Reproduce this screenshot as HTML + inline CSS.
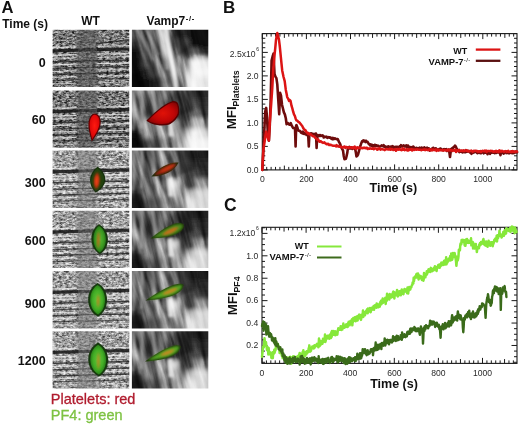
<!DOCTYPE html>
<html><head><meta charset="utf-8"><style>html,body{margin:0;padding:0;background:#fff;width:520px;height:425px;overflow:hidden;font-family:"Liberation Sans",sans-serif}</style></head>
<body><svg width="520" height="425" viewBox="0 0 520 425" style="position:absolute;left:0;top:0;filter:blur(0.35px)">
<defs><filter id="blotch0" x="-20%" y="-20%" width="140%" height="140%" color-interpolation-filters="sRGB"><feGaussianBlur in="SourceGraphic" stdDeviation="2.2" result="b"/><feTurbulence type="fractalNoise" baseFrequency="0.12 0.07" numOctaves="3" seed="41" result="t"/><feColorMatrix in="t" type="matrix" values="0 0 0 0 0  0 0 0 0 0  0 0 0 0 0  4 0 0 0 -0.55" result="m"/><feComposite in="b" in2="m" operator="in"/></filter><filter id="blotch1" x="-20%" y="-20%" width="140%" height="140%" color-interpolation-filters="sRGB"><feGaussianBlur in="SourceGraphic" stdDeviation="2.2" result="b"/><feTurbulence type="fractalNoise" baseFrequency="0.12 0.07" numOctaves="3" seed="42" result="t"/><feColorMatrix in="t" type="matrix" values="0 0 0 0 0  0 0 0 0 0  0 0 0 0 0  4 0 0 0 -0.55" result="m"/><feComposite in="b" in2="m" operator="in"/></filter><clipPath id="cpW"><rect width="76.7" height="57.3"/></clipPath><clipPath id="cpV"><rect width="76.4" height="57.3"/></clipPath><filter id="texW0" x="0" y="0" width="100%" height="100%" color-interpolation-filters="sRGB"><feTurbulence type="fractalNoise" baseFrequency="0.3 0.5" numOctaves="3" seed="11"/><feColorMatrix type="matrix" values="1 0 0 0 0  1 0 0 0 0  1 0 0 0 0  0 0 0 0 1"/><feComponentTransfer><feFuncR type="linear" slope="1.8" intercept="-0.4"/><feFuncG type="linear" slope="1.8" intercept="-0.4"/><feFuncB type="linear" slope="1.8" intercept="-0.4"/></feComponentTransfer></filter><filter id="texW1" x="0" y="0" width="100%" height="100%" color-interpolation-filters="sRGB"><feTurbulence type="fractalNoise" baseFrequency="0.3 0.5" numOctaves="3" seed="12"/><feColorMatrix type="matrix" values="1 0 0 0 0  1 0 0 0 0  1 0 0 0 0  0 0 0 0 1"/><feComponentTransfer><feFuncR type="linear" slope="1.8" intercept="-0.4"/><feFuncG type="linear" slope="1.8" intercept="-0.4"/><feFuncB type="linear" slope="1.8" intercept="-0.4"/></feComponentTransfer></filter><filter id="texW2" x="0" y="0" width="100%" height="100%" color-interpolation-filters="sRGB"><feTurbulence type="fractalNoise" baseFrequency="0.3 0.5" numOctaves="3" seed="13"/><feColorMatrix type="matrix" values="1 0 0 0 0  1 0 0 0 0  1 0 0 0 0  0 0 0 0 1"/><feComponentTransfer><feFuncR type="linear" slope="1.8" intercept="-0.4"/><feFuncG type="linear" slope="1.8" intercept="-0.4"/><feFuncB type="linear" slope="1.8" intercept="-0.4"/></feComponentTransfer></filter><filter id="texS0" x="0" y="0" width="100%" height="100%" color-interpolation-filters="sRGB"><feTurbulence type="fractalNoise" baseFrequency="0.6 0.6" numOctaves="3" seed="21"/><feColorMatrix type="matrix" values="1 0 0 0 0  1 0 0 0 0  1 0 0 0 0  0 0 0 0 1"/><feComponentTransfer><feFuncR type="linear" slope="2.4" intercept="-0.6"/><feFuncG type="linear" slope="2.4" intercept="-0.6"/><feFuncB type="linear" slope="2.4" intercept="-0.6"/></feComponentTransfer></filter><filter id="texS1" x="0" y="0" width="100%" height="100%" color-interpolation-filters="sRGB"><feTurbulence type="fractalNoise" baseFrequency="0.6 0.6" numOctaves="3" seed="22"/><feColorMatrix type="matrix" values="1 0 0 0 0  1 0 0 0 0  1 0 0 0 0  0 0 0 0 1"/><feComponentTransfer><feFuncR type="linear" slope="2.4" intercept="-0.6"/><feFuncG type="linear" slope="2.4" intercept="-0.6"/><feFuncB type="linear" slope="2.4" intercept="-0.6"/></feComponentTransfer></filter><filter id="texV0" x="0" y="0" width="100%" height="100%" color-interpolation-filters="sRGB"><feTurbulence type="fractalNoise" baseFrequency="0.13 0.02" numOctaves="3" seed="31"/><feColorMatrix type="matrix" values="1 0 0 0 0  1 0 0 0 0  1 0 0 0 0  0 0 0 0 1"/><feComponentTransfer><feFuncR type="linear" slope="2.2" intercept="-0.6"/><feFuncG type="linear" slope="2.2" intercept="-0.6"/><feFuncB type="linear" slope="2.2" intercept="-0.6"/></feComponentTransfer></filter><filter id="texV1" x="0" y="0" width="100%" height="100%" color-interpolation-filters="sRGB"><feTurbulence type="fractalNoise" baseFrequency="0.13 0.02" numOctaves="3" seed="32"/><feColorMatrix type="matrix" values="1 0 0 0 0  1 0 0 0 0  1 0 0 0 0  0 0 0 0 1"/><feComponentTransfer><feFuncR type="linear" slope="2.2" intercept="-0.6"/><feFuncG type="linear" slope="2.2" intercept="-0.6"/><feFuncB type="linear" slope="2.2" intercept="-0.6"/></feComponentTransfer></filter><filter id="hiW0" x="0" y="0" width="100%" height="100%" color-interpolation-filters="sRGB"><feTurbulence type="fractalNoise" baseFrequency="0.35 0.75" numOctaves="3" seed="51"/><feColorMatrix type="matrix" values="0 0 0 0 1  0 0 0 0 1  0 0 0 0 1  3.2 0 0 0 -1.62"/></filter><filter id="hiW1" x="0" y="0" width="100%" height="100%" color-interpolation-filters="sRGB"><feTurbulence type="fractalNoise" baseFrequency="0.35 0.75" numOctaves="3" seed="52"/><feColorMatrix type="matrix" values="0 0 0 0 1  0 0 0 0 1  0 0 0 0 1  3.2 0 0 0 -1.62"/></filter><filter id="hiW2" x="0" y="0" width="100%" height="100%" color-interpolation-filters="sRGB"><feTurbulence type="fractalNoise" baseFrequency="0.35 0.75" numOctaves="3" seed="53"/><feColorMatrix type="matrix" values="0 0 0 0 1  0 0 0 0 1  0 0 0 0 1  3.2 0 0 0 -1.62"/></filter><filter id="dkW0" x="0" y="0" width="100%" height="100%" color-interpolation-filters="sRGB"><feTurbulence type="fractalNoise" baseFrequency="0.35 0.75" numOctaves="3" seed="61"/><feColorMatrix type="matrix" values="0 0 0 0 0.12  0 0 0 0 0.12  0 0 0 0 0.12  -4 0 0 0 1.9"/></filter><filter id="dkW1" x="0" y="0" width="100%" height="100%" color-interpolation-filters="sRGB"><feTurbulence type="fractalNoise" baseFrequency="0.35 0.75" numOctaves="3" seed="62"/><feColorMatrix type="matrix" values="0 0 0 0 0.12  0 0 0 0 0.12  0 0 0 0 0.12  -4 0 0 0 1.9"/></filter><filter id="dkW2" x="0" y="0" width="100%" height="100%" color-interpolation-filters="sRGB"><feTurbulence type="fractalNoise" baseFrequency="0.35 0.75" numOctaves="3" seed="63"/><feColorMatrix type="matrix" values="0 0 0 0 0.12  0 0 0 0 0.12  0 0 0 0 0.12  -4 0 0 0 1.9"/></filter><radialGradient id="gRed" cx="50%" cy="45%" r="60%"><stop offset="0" stop-color="#ff1a10"/><stop offset="0.7" stop-color="#e00808"/><stop offset="1" stop-color="#b00404"/></radialGradient>
<radialGradient id="gRed2" cx="50%" cy="50%" r="60%"><stop offset="0" stop-color="#e01208"/><stop offset="0.6" stop-color="#c00606"/><stop offset="1" stop-color="#8a0404"/></radialGradient>
<radialGradient id="gW300" cx="50%" cy="50%" r="55%"><stop offset="0" stop-color="#f03a10"/><stop offset="0.45" stop-color="#c03a10"/><stop offset="0.8" stop-color="#3a5010"/><stop offset="1" stop-color="#1c3a0c"/></radialGradient>
<radialGradient id="gLeaf" cx="50%" cy="50%" r="55%"><stop offset="0" stop-color="#5ab832"/><stop offset="0.6" stop-color="#3c9a22"/><stop offset="1" stop-color="#1e6a12"/></radialGradient>
<radialGradient id="gLeafB" cx="50%" cy="50%" r="55%"><stop offset="0" stop-color="#66c83a"/><stop offset="0.6" stop-color="#42ac26"/><stop offset="1" stop-color="#207214"/></radialGradient>
<filter id="bb" x="-30%" y="-30%" width="160%" height="160%"><feGaussianBlur stdDeviation="0.55"/></filter>
<filter id="bb1" x="-30%" y="-30%" width="160%" height="160%"><feGaussianBlur stdDeviation="0.9"/></filter>
<filter id="texW0" x="0" y="0" width="100%" height="100%" color-interpolation-filters="sRGB"><feTurbulence type="fractalNoise" baseFrequency="0.3 0.8" numOctaves="3" seed="11"/><feColorMatrix type="matrix" values="1 0 0 0 0  1 0 0 0 0  1 0 0 0 0  0 0 0 0 1"/><feComponentTransfer><feFuncR type="linear" slope="2.6" intercept="-0.8"/><feFuncG type="linear" slope="2.6" intercept="-0.8"/><feFuncB type="linear" slope="2.6" intercept="-0.8"/></feComponentTransfer></filter><filter id="texW1" x="0" y="0" width="100%" height="100%" color-interpolation-filters="sRGB"><feTurbulence type="fractalNoise" baseFrequency="0.3 0.8" numOctaves="3" seed="12"/><feColorMatrix type="matrix" values="1 0 0 0 0  1 0 0 0 0  1 0 0 0 0  0 0 0 0 1"/><feComponentTransfer><feFuncR type="linear" slope="2.6" intercept="-0.8"/><feFuncG type="linear" slope="2.6" intercept="-0.8"/><feFuncB type="linear" slope="2.6" intercept="-0.8"/></feComponentTransfer></filter><filter id="texW2" x="0" y="0" width="100%" height="100%" color-interpolation-filters="sRGB"><feTurbulence type="fractalNoise" baseFrequency="0.3 0.8" numOctaves="3" seed="13"/><feColorMatrix type="matrix" values="1 0 0 0 0  1 0 0 0 0  1 0 0 0 0  0 0 0 0 1"/><feComponentTransfer><feFuncR type="linear" slope="2.6" intercept="-0.8"/><feFuncG type="linear" slope="2.6" intercept="-0.8"/><feFuncB type="linear" slope="2.6" intercept="-0.8"/></feComponentTransfer></filter>
<filter id="nzH" x="0" y="0" width="100%" height="100%"><feTurbulence type="fractalNoise" baseFrequency="0.12 0.55" numOctaves="2" seed="3"/><feColorMatrix type="matrix" values="0 0 0 0 0  0 0 0 0 0  0 0 0 0 0  0 0 0 -2.2 1.35"/></filter>
<filter id="nzV" x="0" y="0" width="100%" height="100%"><feTurbulence type="fractalNoise" baseFrequency="0.3 0.1" numOctaves="2" seed="5"/><feColorMatrix type="matrix" values="0 0 0 0 1  0 0 0 0 1  0 0 0 0 1  0 0 0 -2 1.2"/></filter>
<filter id="bl3"><feGaussianBlur stdDeviation="3"/></filter>
<filter id="bl2"><feGaussianBlur stdDeviation="2"/></filter>
<filter id="bl1"><feGaussianBlur stdDeviation="1"/></filter>
<filter id="bl07"><feGaussianBlur stdDeviation="0.7"/></filter>
<filter id="bl04"><feGaussianBlur stdDeviation="0.4"/></filter><filter id="bl15" x="-50%" y="-10%" width="200%" height="120%"><feGaussianBlur stdDeviation="1.5"/></filter><filter id="bl25" x="-20%" y="-20%" width="140%" height="140%"><feGaussianBlur stdDeviation="2.5"/></filter>
<filter id="bl15v" x="-20%" y="-20%" width="140%" height="140%"><feGaussianBlur stdDeviation="1.6"/></filter>
<filter id="bl4v" x="-30%" y="-30%" width="160%" height="160%"><feGaussianBlur stdDeviation="4"/></filter>
<filter id="blg" x="-30%" y="-30%" width="160%" height="160%"><feGaussianBlur stdDeviation="2.6"/></filter>
<filter id="bl1v" x="-30%" y="-30%" width="160%" height="160%"><feGaussianBlur stdDeviation="1.2"/></filter>
<filter id="bl07w" x="-10%" y="-200%" width="120%" height="500%"><feGaussianBlur stdDeviation="0.7"/></filter>
<filter id="bl05"><feGaussianBlur stdDeviation="0.5"/></filter>
</defs>
<rect width="520" height="425" fill="#fff"/>
<g transform="translate(52.6,29.7)" clip-path="url(#cpW)"><rect width="76.7" height="57.3" fill="#6c6c6c"/><rect width="76.7" height="57.3" filter="url(#texW0)" opacity="0.8" style="mix-blend-mode:overlay"/><rect width="76.7" height="57.3" filter="url(#hiW0)" opacity="0.5"/><rect x="24" y="-5" width="21" height="67.3" fill="#585858" opacity="0.55" filter="url(#bl15)"/><path d="M-2 21.3L26 20.5" stroke="#141414" stroke-width="3.2" opacity="0.85" filter="url(#bl07w)"/><path d="M26 20.5L44 20.0" stroke="#141414" stroke-width="3.2" opacity="0.51" filter="url(#bl07w)"/><path d="M44 20.0L78.7 19.3" stroke="#141414" stroke-width="3.2" opacity="0.85" filter="url(#bl07w)"/><path d="M-2 32.3L26 31.5" stroke="#141414" stroke-width="1.5" opacity="0.7" filter="url(#bl07w)"/><path d="M26 31.5L44 31.0" stroke="#141414" stroke-width="1.5" opacity="0.42" filter="url(#bl07w)"/><path d="M44 31.0L78.7 30.3" stroke="#141414" stroke-width="1.5" opacity="0.7" filter="url(#bl07w)"/><path d="M-2 38.8L26 38" stroke="#141414" stroke-width="1.3" opacity="0.65" filter="url(#bl07w)"/><path d="M26 38L44 37.5" stroke="#141414" stroke-width="1.3" opacity="0.39" filter="url(#bl07w)"/><path d="M44 37.5L78.7 36.8" stroke="#141414" stroke-width="1.3" opacity="0.65" filter="url(#bl07w)"/><path d="M-2 44.8L26 44" stroke="#141414" stroke-width="1.5" opacity="0.7" filter="url(#bl07w)"/><path d="M26 44L44 43.5" stroke="#141414" stroke-width="1.5" opacity="0.42" filter="url(#bl07w)"/><path d="M44 43.5L78.7 42.8" stroke="#141414" stroke-width="1.5" opacity="0.7" filter="url(#bl07w)"/><path d="M-2 50.8L26 50" stroke="#141414" stroke-width="1.2" opacity="0.55" filter="url(#bl07w)"/><path d="M26 50L44 49.5" stroke="#141414" stroke-width="1.2" opacity="0.33" filter="url(#bl07w)"/><path d="M44 49.5L78.7 48.8" stroke="#141414" stroke-width="1.2" opacity="0.55" filter="url(#bl07w)"/><path d="M-2 18.0L24 17.2M45 16.7L78.7 16.0" stroke="#f4f4f4" stroke-width="1.2" opacity="0.7" filter="url(#bl04)"/><path d="M-2 25.8L24 25M45 24.5L78.7 23.8" stroke="#f4f4f4" stroke-width="1.3" opacity="0.7" filter="url(#bl04)"/><path d="M-2 28.8L24 28M45 27.5L78.7 26.8" stroke="#f4f4f4" stroke-width="1.1" opacity="0.6" filter="url(#bl04)"/><path d="M-2 35.3L24 34.5M45 34.0L78.7 33.3" stroke="#f4f4f4" stroke-width="1.3" opacity="0.7" filter="url(#bl04)"/><path d="M-2 41.8L24 41M45 40.5L78.7 39.8" stroke="#f4f4f4" stroke-width="1.2" opacity="0.65" filter="url(#bl04)"/><path d="M-2 47.8L24 47M45 46.5L78.7 45.8" stroke="#f4f4f4" stroke-width="1.2" opacity="0.65" filter="url(#bl04)"/><path d="M-2 54.3L24 53.5M45 53.0L78.7 52.3" stroke="#f4f4f4" stroke-width="1.0" opacity="0.5" filter="url(#bl04)"/><path d="M44 14L78.7 10" stroke="#141414" stroke-width="1.6" opacity="0.6"/></g><g transform="translate(131.9,29.7)" clip-path="url(#cpV)"><g filter="url(#blg)"><rect x="-9.85" y="-9.85" width="10.15" height="10.15" fill="#595959"/><rect x="-0.30" y="-9.85" width="10.15" height="10.15" fill="#595959"/><rect x="9.25" y="-9.85" width="10.15" height="10.15" fill="#747474"/><rect x="18.80" y="-9.85" width="10.15" height="10.15" fill="#606060"/><rect x="28.35" y="-9.85" width="10.15" height="10.15" fill="#b8b8b8"/><rect x="37.90" y="-9.85" width="10.15" height="10.15" fill="#2a2a2a"/><rect x="47.45" y="-9.85" width="10.15" height="10.15" fill="#1d1d1d"/><rect x="57.00" y="-9.85" width="10.15" height="10.15" fill="#0f0f0f"/><rect x="66.55" y="-9.85" width="10.15" height="10.15" fill="#080808"/><rect x="76.10" y="-9.85" width="10.15" height="10.15" fill="#080808"/><rect x="-9.85" y="-0.30" width="10.15" height="10.15" fill="#595959"/><rect x="-0.30" y="-0.30" width="10.15" height="10.15" fill="#595959"/><rect x="9.25" y="-0.30" width="10.15" height="10.15" fill="#747474"/><rect x="18.80" y="-0.30" width="10.15" height="10.15" fill="#606060"/><rect x="28.35" y="-0.30" width="10.15" height="10.15" fill="#b8b8b8"/><rect x="37.90" y="-0.30" width="10.15" height="10.15" fill="#2a2a2a"/><rect x="47.45" y="-0.30" width="10.15" height="10.15" fill="#1d1d1d"/><rect x="57.00" y="-0.30" width="10.15" height="10.15" fill="#0f0f0f"/><rect x="66.55" y="-0.30" width="10.15" height="10.15" fill="#080808"/><rect x="76.10" y="-0.30" width="10.15" height="10.15" fill="#080808"/><rect x="-9.85" y="9.25" width="10.15" height="10.15" fill="#313131"/><rect x="-0.30" y="9.25" width="10.15" height="10.15" fill="#313131"/><rect x="9.25" y="9.25" width="10.15" height="10.15" fill="#676767"/><rect x="18.80" y="9.25" width="10.15" height="10.15" fill="#595959"/><rect x="28.35" y="9.25" width="10.15" height="10.15" fill="#b1b1b1"/><rect x="37.90" y="9.25" width="10.15" height="10.15" fill="#535353"/><rect x="47.45" y="9.25" width="10.15" height="10.15" fill="#3e3e3e"/><rect x="57.00" y="9.25" width="10.15" height="10.15" fill="#0f0f0f"/><rect x="66.55" y="9.25" width="10.15" height="10.15" fill="#080808"/><rect x="76.10" y="9.25" width="10.15" height="10.15" fill="#080808"/><rect x="-9.85" y="18.80" width="10.15" height="10.15" fill="#0f0f0f"/><rect x="-0.30" y="18.80" width="10.15" height="10.15" fill="#0f0f0f"/><rect x="9.25" y="18.80" width="10.15" height="10.15" fill="#595959"/><rect x="18.80" y="18.80" width="10.15" height="10.15" fill="#535353"/><rect x="28.35" y="18.80" width="10.15" height="10.15" fill="#b1b1b1"/><rect x="37.90" y="18.80" width="10.15" height="10.15" fill="#898989"/><rect x="47.45" y="18.80" width="10.15" height="10.15" fill="#2a2a2a"/><rect x="57.00" y="18.80" width="10.15" height="10.15" fill="#535353"/><rect x="66.55" y="18.80" width="10.15" height="10.15" fill="#2a2a2a"/><rect x="76.10" y="18.80" width="10.15" height="10.15" fill="#2a2a2a"/><rect x="-9.85" y="28.35" width="10.15" height="10.15" fill="#080808"/><rect x="-0.30" y="28.35" width="10.15" height="10.15" fill="#080808"/><rect x="9.25" y="28.35" width="10.15" height="10.15" fill="#454545"/><rect x="18.80" y="28.35" width="10.15" height="10.15" fill="#606060"/><rect x="28.35" y="28.35" width="10.15" height="10.15" fill="#898989"/><rect x="37.90" y="28.35" width="10.15" height="10.15" fill="#a4a4a4"/><rect x="47.45" y="28.35" width="10.15" height="10.15" fill="#7b7b7b"/><rect x="57.00" y="28.35" width="10.15" height="10.15" fill="#fafafa"/><rect x="66.55" y="28.35" width="10.15" height="10.15" fill="#e7e7e7"/><rect x="76.10" y="28.35" width="10.15" height="10.15" fill="#e7e7e7"/><rect x="-9.85" y="37.90" width="10.15" height="10.15" fill="#080808"/><rect x="-0.30" y="37.90" width="10.15" height="10.15" fill="#080808"/><rect x="9.25" y="37.90" width="10.15" height="10.15" fill="#1d1d1d"/><rect x="18.80" y="37.90" width="10.15" height="10.15" fill="#535353"/><rect x="28.35" y="37.90" width="10.15" height="10.15" fill="#6e6e6e"/><rect x="37.90" y="37.90" width="10.15" height="10.15" fill="#a4a4a4"/><rect x="47.45" y="37.90" width="10.15" height="10.15" fill="#898989"/><rect x="57.00" y="37.90" width="10.15" height="10.15" fill="#fafafa"/><rect x="66.55" y="37.90" width="10.15" height="10.15" fill="#f5f5f5"/><rect x="76.10" y="37.90" width="10.15" height="10.15" fill="#f5f5f5"/><rect x="-9.85" y="47.45" width="10.15" height="10.15" fill="#080808"/><rect x="-0.30" y="47.45" width="10.15" height="10.15" fill="#080808"/><rect x="9.25" y="47.45" width="10.15" height="10.15" fill="#080808"/><rect x="18.80" y="47.45" width="10.15" height="10.15" fill="#1d1d1d"/><rect x="28.35" y="47.45" width="10.15" height="10.15" fill="#535353"/><rect x="37.90" y="47.45" width="10.15" height="10.15" fill="#7b7b7b"/><rect x="47.45" y="47.45" width="10.15" height="10.15" fill="#898989"/><rect x="57.00" y="47.45" width="10.15" height="10.15" fill="#fafafa"/><rect x="66.55" y="47.45" width="10.15" height="10.15" fill="#e7e7e7"/><rect x="76.10" y="47.45" width="10.15" height="10.15" fill="#e7e7e7"/><rect x="-9.85" y="57.00" width="10.15" height="10.15" fill="#080808"/><rect x="-0.30" y="57.00" width="10.15" height="10.15" fill="#080808"/><rect x="9.25" y="57.00" width="10.15" height="10.15" fill="#080808"/><rect x="18.80" y="57.00" width="10.15" height="10.15" fill="#1d1d1d"/><rect x="28.35" y="57.00" width="10.15" height="10.15" fill="#535353"/><rect x="37.90" y="57.00" width="10.15" height="10.15" fill="#7b7b7b"/><rect x="47.45" y="57.00" width="10.15" height="10.15" fill="#898989"/><rect x="57.00" y="57.00" width="10.15" height="10.15" fill="#fafafa"/><rect x="66.55" y="57.00" width="10.15" height="10.15" fill="#e7e7e7"/><rect x="76.10" y="57.00" width="10.15" height="10.15" fill="#e7e7e7"/></g><rect x="-20" y="-20" width="116.4" height="97.3" transform="rotate(-14 38 28)" filter="url(#texV0)" opacity="0.6" style="mix-blend-mode:overlay"/><g filter="url(#bl1v)"><path d="M31 -3L36 -3L47 60L42 60Z" fill="#ffffff" opacity="0.75"/><path d="M27 -3L30 -3L37 40L34 40Z" fill="#e0e0e0" opacity="0.45"/><path d="M3 -3L6 -3L22 30L20 31Z" fill="#d8d8d8" opacity="0.35"/><path d="M11 -3L14 -3L28 25L26 26Z" fill="#d8d8d8" opacity="0.35"/><path d="M38 -3L48 -3L56 20L46 26Z" fill="#000000" opacity="0.35"/><path d="M-3 44L10 43L12 60L-3 60Z" fill="#000000" opacity="0.4"/></g></g><g transform="translate(52.6,90.4)" clip-path="url(#cpW)"><rect width="76.7" height="57.3" fill="#6c6c6c"/><rect width="76.7" height="57.3" filter="url(#texW1)" opacity="0.8" style="mix-blend-mode:overlay"/><rect width="76.7" height="57.3" filter="url(#hiW1)" opacity="0.5"/><rect x="24" y="-5" width="21" height="67.3" fill="#585858" opacity="0.55" filter="url(#bl15)"/><path d="M-2 21.3L26 20.5" stroke="#141414" stroke-width="3.2" opacity="0.85" filter="url(#bl07w)"/><path d="M26 20.5L44 20.0" stroke="#141414" stroke-width="3.2" opacity="0.51" filter="url(#bl07w)"/><path d="M44 20.0L78.7 19.3" stroke="#141414" stroke-width="3.2" opacity="0.85" filter="url(#bl07w)"/><path d="M-2 32.3L26 31.5" stroke="#141414" stroke-width="1.5" opacity="0.7" filter="url(#bl07w)"/><path d="M26 31.5L44 31.0" stroke="#141414" stroke-width="1.5" opacity="0.42" filter="url(#bl07w)"/><path d="M44 31.0L78.7 30.3" stroke="#141414" stroke-width="1.5" opacity="0.7" filter="url(#bl07w)"/><path d="M-2 38.8L26 38" stroke="#141414" stroke-width="1.3" opacity="0.65" filter="url(#bl07w)"/><path d="M26 38L44 37.5" stroke="#141414" stroke-width="1.3" opacity="0.39" filter="url(#bl07w)"/><path d="M44 37.5L78.7 36.8" stroke="#141414" stroke-width="1.3" opacity="0.65" filter="url(#bl07w)"/><path d="M-2 44.8L26 44" stroke="#141414" stroke-width="1.5" opacity="0.7" filter="url(#bl07w)"/><path d="M26 44L44 43.5" stroke="#141414" stroke-width="1.5" opacity="0.42" filter="url(#bl07w)"/><path d="M44 43.5L78.7 42.8" stroke="#141414" stroke-width="1.5" opacity="0.7" filter="url(#bl07w)"/><path d="M-2 50.8L26 50" stroke="#141414" stroke-width="1.2" opacity="0.55" filter="url(#bl07w)"/><path d="M26 50L44 49.5" stroke="#141414" stroke-width="1.2" opacity="0.33" filter="url(#bl07w)"/><path d="M44 49.5L78.7 48.8" stroke="#141414" stroke-width="1.2" opacity="0.55" filter="url(#bl07w)"/><path d="M-2 18.0L24 17.2M45 16.7L78.7 16.0" stroke="#f4f4f4" stroke-width="1.2" opacity="0.7" filter="url(#bl04)"/><path d="M-2 25.8L24 25M45 24.5L78.7 23.8" stroke="#f4f4f4" stroke-width="1.3" opacity="0.7" filter="url(#bl04)"/><path d="M-2 28.8L24 28M45 27.5L78.7 26.8" stroke="#f4f4f4" stroke-width="1.1" opacity="0.6" filter="url(#bl04)"/><path d="M-2 35.3L24 34.5M45 34.0L78.7 33.3" stroke="#f4f4f4" stroke-width="1.3" opacity="0.7" filter="url(#bl04)"/><path d="M-2 41.8L24 41M45 40.5L78.7 39.8" stroke="#f4f4f4" stroke-width="1.2" opacity="0.65" filter="url(#bl04)"/><path d="M-2 47.8L24 47M45 46.5L78.7 45.8" stroke="#f4f4f4" stroke-width="1.2" opacity="0.65" filter="url(#bl04)"/><path d="M-2 54.3L24 53.5M45 53.0L78.7 52.3" stroke="#f4f4f4" stroke-width="1.0" opacity="0.5" filter="url(#bl04)"/></g><g transform="translate(131.9,90.4)" clip-path="url(#cpV)"><g filter="url(#blg)"><rect x="-9.85" y="-9.85" width="10.15" height="10.15" fill="#828282"/><rect x="-0.30" y="-9.85" width="10.15" height="10.15" fill="#828282"/><rect x="9.25" y="-9.85" width="10.15" height="10.15" fill="#676767"/><rect x="18.80" y="-9.85" width="10.15" height="10.15" fill="#595959"/><rect x="28.35" y="-9.85" width="10.15" height="10.15" fill="#969696"/><rect x="37.90" y="-9.85" width="10.15" height="10.15" fill="#535353"/><rect x="47.45" y="-9.85" width="10.15" height="10.15" fill="#606060"/><rect x="57.00" y="-9.85" width="10.15" height="10.15" fill="#2a2a2a"/><rect x="66.55" y="-9.85" width="10.15" height="10.15" fill="#1d1d1d"/><rect x="76.10" y="-9.85" width="10.15" height="10.15" fill="#1d1d1d"/><rect x="-9.85" y="-0.30" width="10.15" height="10.15" fill="#828282"/><rect x="-0.30" y="-0.30" width="10.15" height="10.15" fill="#828282"/><rect x="9.25" y="-0.30" width="10.15" height="10.15" fill="#676767"/><rect x="18.80" y="-0.30" width="10.15" height="10.15" fill="#595959"/><rect x="28.35" y="-0.30" width="10.15" height="10.15" fill="#969696"/><rect x="37.90" y="-0.30" width="10.15" height="10.15" fill="#535353"/><rect x="47.45" y="-0.30" width="10.15" height="10.15" fill="#606060"/><rect x="57.00" y="-0.30" width="10.15" height="10.15" fill="#2a2a2a"/><rect x="66.55" y="-0.30" width="10.15" height="10.15" fill="#1d1d1d"/><rect x="76.10" y="-0.30" width="10.15" height="10.15" fill="#1d1d1d"/><rect x="-9.85" y="9.25" width="10.15" height="10.15" fill="#8f8f8f"/><rect x="-0.30" y="9.25" width="10.15" height="10.15" fill="#8f8f8f"/><rect x="9.25" y="9.25" width="10.15" height="10.15" fill="#747474"/><rect x="18.80" y="9.25" width="10.15" height="10.15" fill="#676767"/><rect x="28.35" y="9.25" width="10.15" height="10.15" fill="#7b7b7b"/><rect x="37.90" y="9.25" width="10.15" height="10.15" fill="#6e6e6e"/><rect x="47.45" y="9.25" width="10.15" height="10.15" fill="#6e6e6e"/><rect x="57.00" y="9.25" width="10.15" height="10.15" fill="#383838"/><rect x="66.55" y="9.25" width="10.15" height="10.15" fill="#2a2a2a"/><rect x="76.10" y="9.25" width="10.15" height="10.15" fill="#2a2a2a"/><rect x="-9.85" y="18.80" width="10.15" height="10.15" fill="#747474"/><rect x="-0.30" y="18.80" width="10.15" height="10.15" fill="#747474"/><rect x="9.25" y="18.80" width="10.15" height="10.15" fill="#595959"/><rect x="18.80" y="18.80" width="10.15" height="10.15" fill="#595959"/><rect x="28.35" y="18.80" width="10.15" height="10.15" fill="#6e6e6e"/><rect x="37.90" y="18.80" width="10.15" height="10.15" fill="#6e6e6e"/><rect x="47.45" y="18.80" width="10.15" height="10.15" fill="#606060"/><rect x="57.00" y="18.80" width="10.15" height="10.15" fill="#535353"/><rect x="66.55" y="18.80" width="10.15" height="10.15" fill="#383838"/><rect x="76.10" y="18.80" width="10.15" height="10.15" fill="#383838"/><rect x="-9.85" y="28.35" width="10.15" height="10.15" fill="#4c4c4c"/><rect x="-0.30" y="28.35" width="10.15" height="10.15" fill="#4c4c4c"/><rect x="9.25" y="28.35" width="10.15" height="10.15" fill="#8f8f8f"/><rect x="18.80" y="28.35" width="10.15" height="10.15" fill="#8f8f8f"/><rect x="28.35" y="28.35" width="10.15" height="10.15" fill="#6e6e6e"/><rect x="37.90" y="28.35" width="10.15" height="10.15" fill="#bfbfbf"/><rect x="47.45" y="28.35" width="10.15" height="10.15" fill="#6e6e6e"/><rect x="57.00" y="28.35" width="10.15" height="10.15" fill="#b1b1b1"/><rect x="66.55" y="28.35" width="10.15" height="10.15" fill="#898989"/><rect x="76.10" y="28.35" width="10.15" height="10.15" fill="#898989"/><rect x="-9.85" y="37.90" width="10.15" height="10.15" fill="#161616"/><rect x="-0.30" y="37.90" width="10.15" height="10.15" fill="#161616"/><rect x="9.25" y="37.90" width="10.15" height="10.15" fill="#828282"/><rect x="18.80" y="37.90" width="10.15" height="10.15" fill="#8f8f8f"/><rect x="28.35" y="37.90" width="10.15" height="10.15" fill="#7b7b7b"/><rect x="37.90" y="37.90" width="10.15" height="10.15" fill="#b1b1b1"/><rect x="47.45" y="37.90" width="10.15" height="10.15" fill="#969696"/><rect x="57.00" y="37.90" width="10.15" height="10.15" fill="#fafafa"/><rect x="66.55" y="37.90" width="10.15" height="10.15" fill="#dadada"/><rect x="76.10" y="37.90" width="10.15" height="10.15" fill="#dadada"/><rect x="-9.85" y="47.45" width="10.15" height="10.15" fill="#080808"/><rect x="-0.30" y="47.45" width="10.15" height="10.15" fill="#080808"/><rect x="9.25" y="47.45" width="10.15" height="10.15" fill="#313131"/><rect x="18.80" y="47.45" width="10.15" height="10.15" fill="#595959"/><rect x="28.35" y="47.45" width="10.15" height="10.15" fill="#606060"/><rect x="37.90" y="47.45" width="10.15" height="10.15" fill="#898989"/><rect x="47.45" y="47.45" width="10.15" height="10.15" fill="#b1b1b1"/><rect x="57.00" y="47.45" width="10.15" height="10.15" fill="#fafafa"/><rect x="66.55" y="47.45" width="10.15" height="10.15" fill="#f5f5f5"/><rect x="76.10" y="47.45" width="10.15" height="10.15" fill="#f5f5f5"/><rect x="-9.85" y="57.00" width="10.15" height="10.15" fill="#080808"/><rect x="-0.30" y="57.00" width="10.15" height="10.15" fill="#080808"/><rect x="9.25" y="57.00" width="10.15" height="10.15" fill="#313131"/><rect x="18.80" y="57.00" width="10.15" height="10.15" fill="#595959"/><rect x="28.35" y="57.00" width="10.15" height="10.15" fill="#606060"/><rect x="37.90" y="57.00" width="10.15" height="10.15" fill="#898989"/><rect x="47.45" y="57.00" width="10.15" height="10.15" fill="#b1b1b1"/><rect x="57.00" y="57.00" width="10.15" height="10.15" fill="#fafafa"/><rect x="66.55" y="57.00" width="10.15" height="10.15" fill="#f5f5f5"/><rect x="76.10" y="57.00" width="10.15" height="10.15" fill="#f5f5f5"/></g><rect x="-20" y="-20" width="116.4" height="97.3" transform="rotate(-14 38 28)" filter="url(#texV1)" opacity="0.6" style="mix-blend-mode:overlay"/><g filter="url(#bl1v)"><path d="M35.5 28L40.5 27L41.5 46L36.5 46Z" fill="#ffffff" opacity="0.7"/><path d="M1 -3L4 -3L3 40L0 40Z" fill="#d0d0d0" opacity="0.4"/><path d="M9 -3L12 -3L11 38L8 38Z" fill="#d0d0d0" opacity="0.4"/><path d="M19 -3L22 -3L25 26L22 26Z" fill="#d8d8d8" opacity="0.4"/><path d="M-3 44L10 43L12 60L-3 60Z" fill="#000000" opacity="0.4"/><path d="M44 -3L60 -3L62 20L48 24Z" fill="#000000" opacity="0.3"/></g></g><g transform="translate(52.6,150.6)" clip-path="url(#cpW)"><rect width="76.7" height="57.3" fill="#949494"/><rect width="76.7" height="57.3" filter="url(#texW2)" opacity="0.8" style="mix-blend-mode:overlay"/><rect width="76.7" height="57.3" filter="url(#hiW2)" opacity="0.5"/><rect x="24" y="-5" width="21" height="67.3" fill="#808080" opacity="0.55" filter="url(#bl15)"/><path d="M-2 21.3L26 20.5" stroke="#141414" stroke-width="3.2" opacity="0.85" filter="url(#bl07w)"/><path d="M26 20.5L44 20.0" stroke="#141414" stroke-width="3.2" opacity="0.51" filter="url(#bl07w)"/><path d="M44 20.0L78.7 19.3" stroke="#141414" stroke-width="3.2" opacity="0.85" filter="url(#bl07w)"/><path d="M-2 32.3L26 31.5" stroke="#141414" stroke-width="1.5" opacity="0.7" filter="url(#bl07w)"/><path d="M26 31.5L44 31.0" stroke="#141414" stroke-width="1.5" opacity="0.42" filter="url(#bl07w)"/><path d="M44 31.0L78.7 30.3" stroke="#141414" stroke-width="1.5" opacity="0.7" filter="url(#bl07w)"/><path d="M-2 38.8L26 38" stroke="#141414" stroke-width="1.3" opacity="0.65" filter="url(#bl07w)"/><path d="M26 38L44 37.5" stroke="#141414" stroke-width="1.3" opacity="0.39" filter="url(#bl07w)"/><path d="M44 37.5L78.7 36.8" stroke="#141414" stroke-width="1.3" opacity="0.65" filter="url(#bl07w)"/><path d="M-2 44.8L26 44" stroke="#141414" stroke-width="1.5" opacity="0.7" filter="url(#bl07w)"/><path d="M26 44L44 43.5" stroke="#141414" stroke-width="1.5" opacity="0.42" filter="url(#bl07w)"/><path d="M44 43.5L78.7 42.8" stroke="#141414" stroke-width="1.5" opacity="0.7" filter="url(#bl07w)"/><path d="M-2 50.8L26 50" stroke="#141414" stroke-width="1.2" opacity="0.55" filter="url(#bl07w)"/><path d="M26 50L44 49.5" stroke="#141414" stroke-width="1.2" opacity="0.33" filter="url(#bl07w)"/><path d="M44 49.5L78.7 48.8" stroke="#141414" stroke-width="1.2" opacity="0.55" filter="url(#bl07w)"/><path d="M-2 18.0L24 17.2M45 16.7L78.7 16.0" stroke="#f4f4f4" stroke-width="1.2" opacity="0.7" filter="url(#bl04)"/><path d="M-2 25.8L24 25M45 24.5L78.7 23.8" stroke="#f4f4f4" stroke-width="1.3" opacity="0.7" filter="url(#bl04)"/><path d="M-2 28.8L24 28M45 27.5L78.7 26.8" stroke="#f4f4f4" stroke-width="1.1" opacity="0.6" filter="url(#bl04)"/><path d="M-2 35.3L24 34.5M45 34.0L78.7 33.3" stroke="#f4f4f4" stroke-width="1.3" opacity="0.7" filter="url(#bl04)"/><path d="M-2 41.8L24 41M45 40.5L78.7 39.8" stroke="#f4f4f4" stroke-width="1.2" opacity="0.65" filter="url(#bl04)"/><path d="M-2 47.8L24 47M45 46.5L78.7 45.8" stroke="#f4f4f4" stroke-width="1.2" opacity="0.65" filter="url(#bl04)"/><path d="M-2 54.3L24 53.5M45 53.0L78.7 52.3" stroke="#f4f4f4" stroke-width="1.0" opacity="0.5" filter="url(#bl04)"/></g><g transform="translate(131.9,150.6)" clip-path="url(#cpV)"><g filter="url(#blg)"><rect x="-9.85" y="-9.85" width="10.15" height="10.15" fill="#676767"/><rect x="-0.30" y="-9.85" width="10.15" height="10.15" fill="#676767"/><rect x="9.25" y="-9.85" width="10.15" height="10.15" fill="#595959"/><rect x="18.80" y="-9.85" width="10.15" height="10.15" fill="#3e3e3e"/><rect x="28.35" y="-9.85" width="10.15" height="10.15" fill="#969696"/><rect x="37.90" y="-9.85" width="10.15" height="10.15" fill="#606060"/><rect x="47.45" y="-9.85" width="10.15" height="10.15" fill="#383838"/><rect x="57.00" y="-9.85" width="10.15" height="10.15" fill="#1d1d1d"/><rect x="66.55" y="-9.85" width="10.15" height="10.15" fill="#161616"/><rect x="76.10" y="-9.85" width="10.15" height="10.15" fill="#161616"/><rect x="-9.85" y="-0.30" width="10.15" height="10.15" fill="#676767"/><rect x="-0.30" y="-0.30" width="10.15" height="10.15" fill="#676767"/><rect x="9.25" y="-0.30" width="10.15" height="10.15" fill="#595959"/><rect x="18.80" y="-0.30" width="10.15" height="10.15" fill="#3e3e3e"/><rect x="28.35" y="-0.30" width="10.15" height="10.15" fill="#969696"/><rect x="37.90" y="-0.30" width="10.15" height="10.15" fill="#606060"/><rect x="47.45" y="-0.30" width="10.15" height="10.15" fill="#383838"/><rect x="57.00" y="-0.30" width="10.15" height="10.15" fill="#1d1d1d"/><rect x="66.55" y="-0.30" width="10.15" height="10.15" fill="#161616"/><rect x="76.10" y="-0.30" width="10.15" height="10.15" fill="#161616"/><rect x="-9.85" y="9.25" width="10.15" height="10.15" fill="#747474"/><rect x="-0.30" y="9.25" width="10.15" height="10.15" fill="#747474"/><rect x="9.25" y="9.25" width="10.15" height="10.15" fill="#595959"/><rect x="18.80" y="9.25" width="10.15" height="10.15" fill="#4c4c4c"/><rect x="28.35" y="9.25" width="10.15" height="10.15" fill="#898989"/><rect x="37.90" y="9.25" width="10.15" height="10.15" fill="#6e6e6e"/><rect x="47.45" y="9.25" width="10.15" height="10.15" fill="#454545"/><rect x="57.00" y="9.25" width="10.15" height="10.15" fill="#2a2a2a"/><rect x="66.55" y="9.25" width="10.15" height="10.15" fill="#232323"/><rect x="76.10" y="9.25" width="10.15" height="10.15" fill="#232323"/><rect x="-9.85" y="18.80" width="10.15" height="10.15" fill="#828282"/><rect x="-0.30" y="18.80" width="10.15" height="10.15" fill="#828282"/><rect x="9.25" y="18.80" width="10.15" height="10.15" fill="#595959"/><rect x="18.80" y="18.80" width="10.15" height="10.15" fill="#676767"/><rect x="28.35" y="18.80" width="10.15" height="10.15" fill="#6e6e6e"/><rect x="37.90" y="18.80" width="10.15" height="10.15" fill="#606060"/><rect x="47.45" y="18.80" width="10.15" height="10.15" fill="#535353"/><rect x="57.00" y="18.80" width="10.15" height="10.15" fill="#383838"/><rect x="66.55" y="18.80" width="10.15" height="10.15" fill="#2a2a2a"/><rect x="76.10" y="18.80" width="10.15" height="10.15" fill="#2a2a2a"/><rect x="-9.85" y="28.35" width="10.15" height="10.15" fill="#595959"/><rect x="-0.30" y="28.35" width="10.15" height="10.15" fill="#595959"/><rect x="9.25" y="28.35" width="10.15" height="10.15" fill="#676767"/><rect x="18.80" y="28.35" width="10.15" height="10.15" fill="#747474"/><rect x="28.35" y="28.35" width="10.15" height="10.15" fill="#969696"/><rect x="37.90" y="28.35" width="10.15" height="10.15" fill="#e7e7e7"/><rect x="47.45" y="28.35" width="10.15" height="10.15" fill="#535353"/><rect x="57.00" y="28.35" width="10.15" height="10.15" fill="#6e6e6e"/><rect x="66.55" y="28.35" width="10.15" height="10.15" fill="#7b7b7b"/><rect x="76.10" y="28.35" width="10.15" height="10.15" fill="#7b7b7b"/><rect x="-9.85" y="37.90" width="10.15" height="10.15" fill="#3e3e3e"/><rect x="-0.30" y="37.90" width="10.15" height="10.15" fill="#3e3e3e"/><rect x="9.25" y="37.90" width="10.15" height="10.15" fill="#676767"/><rect x="18.80" y="37.90" width="10.15" height="10.15" fill="#828282"/><rect x="28.35" y="37.90" width="10.15" height="10.15" fill="#6e6e6e"/><rect x="37.90" y="37.90" width="10.15" height="10.15" fill="#bfbfbf"/><rect x="47.45" y="37.90" width="10.15" height="10.15" fill="#7b7b7b"/><rect x="57.00" y="37.90" width="10.15" height="10.15" fill="#dadada"/><rect x="66.55" y="37.90" width="10.15" height="10.15" fill="#dadada"/><rect x="76.10" y="37.90" width="10.15" height="10.15" fill="#dadada"/><rect x="-9.85" y="47.45" width="10.15" height="10.15" fill="#232323"/><rect x="-0.30" y="47.45" width="10.15" height="10.15" fill="#232323"/><rect x="9.25" y="47.45" width="10.15" height="10.15" fill="#3e3e3e"/><rect x="18.80" y="47.45" width="10.15" height="10.15" fill="#595959"/><rect x="28.35" y="47.45" width="10.15" height="10.15" fill="#606060"/><rect x="37.90" y="47.45" width="10.15" height="10.15" fill="#969696"/><rect x="47.45" y="47.45" width="10.15" height="10.15" fill="#a4a4a4"/><rect x="57.00" y="47.45" width="10.15" height="10.15" fill="#e7e7e7"/><rect x="66.55" y="47.45" width="10.15" height="10.15" fill="#dadada"/><rect x="76.10" y="47.45" width="10.15" height="10.15" fill="#dadada"/><rect x="-9.85" y="57.00" width="10.15" height="10.15" fill="#232323"/><rect x="-0.30" y="57.00" width="10.15" height="10.15" fill="#232323"/><rect x="9.25" y="57.00" width="10.15" height="10.15" fill="#3e3e3e"/><rect x="18.80" y="57.00" width="10.15" height="10.15" fill="#595959"/><rect x="28.35" y="57.00" width="10.15" height="10.15" fill="#606060"/><rect x="37.90" y="57.00" width="10.15" height="10.15" fill="#969696"/><rect x="47.45" y="57.00" width="10.15" height="10.15" fill="#a4a4a4"/><rect x="57.00" y="57.00" width="10.15" height="10.15" fill="#e7e7e7"/><rect x="66.55" y="57.00" width="10.15" height="10.15" fill="#dadada"/><rect x="76.10" y="57.00" width="10.15" height="10.15" fill="#dadada"/></g><rect x="-20" y="-20" width="116.4" height="97.3" transform="rotate(-14 38 28)" filter="url(#texV0)" opacity="0.6" style="mix-blend-mode:overlay"/><g filter="url(#bl1v)"><path d="M35.5 28L40.5 27L41.5 46L36.5 46Z" fill="#ffffff" opacity="0.7"/><path d="M1 -3L4 -3L3 40L0 40Z" fill="#d0d0d0" opacity="0.4"/><path d="M9 -3L12 -3L11 38L8 38Z" fill="#d0d0d0" opacity="0.4"/><path d="M19 -3L22 -3L25 26L22 26Z" fill="#d8d8d8" opacity="0.4"/><path d="M-3 44L10 43L12 60L-3 60Z" fill="#000000" opacity="0.4"/><path d="M44 -3L60 -3L62 20L48 24Z" fill="#000000" opacity="0.3"/></g></g><g transform="translate(52.6,210.8)" clip-path="url(#cpW)"><rect width="76.7" height="57.3" fill="#949494"/><rect width="76.7" height="57.3" filter="url(#texW0)" opacity="0.8" style="mix-blend-mode:overlay"/><rect width="76.7" height="57.3" filter="url(#hiW0)" opacity="0.5"/><rect x="24" y="-5" width="21" height="67.3" fill="#808080" opacity="0.55" filter="url(#bl15)"/><path d="M-2 21.3L26 20.5" stroke="#141414" stroke-width="3.2" opacity="0.85" filter="url(#bl07w)"/><path d="M26 20.5L44 20.0" stroke="#141414" stroke-width="3.2" opacity="0.51" filter="url(#bl07w)"/><path d="M44 20.0L78.7 19.3" stroke="#141414" stroke-width="3.2" opacity="0.85" filter="url(#bl07w)"/><path d="M-2 32.3L26 31.5" stroke="#141414" stroke-width="1.5" opacity="0.7" filter="url(#bl07w)"/><path d="M26 31.5L44 31.0" stroke="#141414" stroke-width="1.5" opacity="0.42" filter="url(#bl07w)"/><path d="M44 31.0L78.7 30.3" stroke="#141414" stroke-width="1.5" opacity="0.7" filter="url(#bl07w)"/><path d="M-2 38.8L26 38" stroke="#141414" stroke-width="1.3" opacity="0.65" filter="url(#bl07w)"/><path d="M26 38L44 37.5" stroke="#141414" stroke-width="1.3" opacity="0.39" filter="url(#bl07w)"/><path d="M44 37.5L78.7 36.8" stroke="#141414" stroke-width="1.3" opacity="0.65" filter="url(#bl07w)"/><path d="M-2 44.8L26 44" stroke="#141414" stroke-width="1.5" opacity="0.7" filter="url(#bl07w)"/><path d="M26 44L44 43.5" stroke="#141414" stroke-width="1.5" opacity="0.42" filter="url(#bl07w)"/><path d="M44 43.5L78.7 42.8" stroke="#141414" stroke-width="1.5" opacity="0.7" filter="url(#bl07w)"/><path d="M-2 50.8L26 50" stroke="#141414" stroke-width="1.2" opacity="0.55" filter="url(#bl07w)"/><path d="M26 50L44 49.5" stroke="#141414" stroke-width="1.2" opacity="0.33" filter="url(#bl07w)"/><path d="M44 49.5L78.7 48.8" stroke="#141414" stroke-width="1.2" opacity="0.55" filter="url(#bl07w)"/><path d="M-2 18.0L24 17.2M45 16.7L78.7 16.0" stroke="#f4f4f4" stroke-width="1.2" opacity="0.7" filter="url(#bl04)"/><path d="M-2 25.8L24 25M45 24.5L78.7 23.8" stroke="#f4f4f4" stroke-width="1.3" opacity="0.7" filter="url(#bl04)"/><path d="M-2 28.8L24 28M45 27.5L78.7 26.8" stroke="#f4f4f4" stroke-width="1.1" opacity="0.6" filter="url(#bl04)"/><path d="M-2 35.3L24 34.5M45 34.0L78.7 33.3" stroke="#f4f4f4" stroke-width="1.3" opacity="0.7" filter="url(#bl04)"/><path d="M-2 41.8L24 41M45 40.5L78.7 39.8" stroke="#f4f4f4" stroke-width="1.2" opacity="0.65" filter="url(#bl04)"/><path d="M-2 47.8L24 47M45 46.5L78.7 45.8" stroke="#f4f4f4" stroke-width="1.2" opacity="0.65" filter="url(#bl04)"/><path d="M-2 54.3L24 53.5M45 53.0L78.7 52.3" stroke="#f4f4f4" stroke-width="1.0" opacity="0.5" filter="url(#bl04)"/></g><g transform="translate(131.9,210.8)" clip-path="url(#cpV)"><g filter="url(#blg)"><rect x="-9.85" y="-9.85" width="10.15" height="10.15" fill="#676767"/><rect x="-0.30" y="-9.85" width="10.15" height="10.15" fill="#676767"/><rect x="9.25" y="-9.85" width="10.15" height="10.15" fill="#595959"/><rect x="18.80" y="-9.85" width="10.15" height="10.15" fill="#3e3e3e"/><rect x="28.35" y="-9.85" width="10.15" height="10.15" fill="#969696"/><rect x="37.90" y="-9.85" width="10.15" height="10.15" fill="#606060"/><rect x="47.45" y="-9.85" width="10.15" height="10.15" fill="#383838"/><rect x="57.00" y="-9.85" width="10.15" height="10.15" fill="#1d1d1d"/><rect x="66.55" y="-9.85" width="10.15" height="10.15" fill="#161616"/><rect x="76.10" y="-9.85" width="10.15" height="10.15" fill="#161616"/><rect x="-9.85" y="-0.30" width="10.15" height="10.15" fill="#676767"/><rect x="-0.30" y="-0.30" width="10.15" height="10.15" fill="#676767"/><rect x="9.25" y="-0.30" width="10.15" height="10.15" fill="#595959"/><rect x="18.80" y="-0.30" width="10.15" height="10.15" fill="#3e3e3e"/><rect x="28.35" y="-0.30" width="10.15" height="10.15" fill="#969696"/><rect x="37.90" y="-0.30" width="10.15" height="10.15" fill="#606060"/><rect x="47.45" y="-0.30" width="10.15" height="10.15" fill="#383838"/><rect x="57.00" y="-0.30" width="10.15" height="10.15" fill="#1d1d1d"/><rect x="66.55" y="-0.30" width="10.15" height="10.15" fill="#161616"/><rect x="76.10" y="-0.30" width="10.15" height="10.15" fill="#161616"/><rect x="-9.85" y="9.25" width="10.15" height="10.15" fill="#747474"/><rect x="-0.30" y="9.25" width="10.15" height="10.15" fill="#747474"/><rect x="9.25" y="9.25" width="10.15" height="10.15" fill="#595959"/><rect x="18.80" y="9.25" width="10.15" height="10.15" fill="#4c4c4c"/><rect x="28.35" y="9.25" width="10.15" height="10.15" fill="#898989"/><rect x="37.90" y="9.25" width="10.15" height="10.15" fill="#6e6e6e"/><rect x="47.45" y="9.25" width="10.15" height="10.15" fill="#454545"/><rect x="57.00" y="9.25" width="10.15" height="10.15" fill="#2a2a2a"/><rect x="66.55" y="9.25" width="10.15" height="10.15" fill="#232323"/><rect x="76.10" y="9.25" width="10.15" height="10.15" fill="#232323"/><rect x="-9.85" y="18.80" width="10.15" height="10.15" fill="#828282"/><rect x="-0.30" y="18.80" width="10.15" height="10.15" fill="#828282"/><rect x="9.25" y="18.80" width="10.15" height="10.15" fill="#595959"/><rect x="18.80" y="18.80" width="10.15" height="10.15" fill="#676767"/><rect x="28.35" y="18.80" width="10.15" height="10.15" fill="#6e6e6e"/><rect x="37.90" y="18.80" width="10.15" height="10.15" fill="#606060"/><rect x="47.45" y="18.80" width="10.15" height="10.15" fill="#535353"/><rect x="57.00" y="18.80" width="10.15" height="10.15" fill="#383838"/><rect x="66.55" y="18.80" width="10.15" height="10.15" fill="#2a2a2a"/><rect x="76.10" y="18.80" width="10.15" height="10.15" fill="#2a2a2a"/><rect x="-9.85" y="28.35" width="10.15" height="10.15" fill="#595959"/><rect x="-0.30" y="28.35" width="10.15" height="10.15" fill="#595959"/><rect x="9.25" y="28.35" width="10.15" height="10.15" fill="#676767"/><rect x="18.80" y="28.35" width="10.15" height="10.15" fill="#747474"/><rect x="28.35" y="28.35" width="10.15" height="10.15" fill="#969696"/><rect x="37.90" y="28.35" width="10.15" height="10.15" fill="#e7e7e7"/><rect x="47.45" y="28.35" width="10.15" height="10.15" fill="#535353"/><rect x="57.00" y="28.35" width="10.15" height="10.15" fill="#6e6e6e"/><rect x="66.55" y="28.35" width="10.15" height="10.15" fill="#7b7b7b"/><rect x="76.10" y="28.35" width="10.15" height="10.15" fill="#7b7b7b"/><rect x="-9.85" y="37.90" width="10.15" height="10.15" fill="#3e3e3e"/><rect x="-0.30" y="37.90" width="10.15" height="10.15" fill="#3e3e3e"/><rect x="9.25" y="37.90" width="10.15" height="10.15" fill="#676767"/><rect x="18.80" y="37.90" width="10.15" height="10.15" fill="#828282"/><rect x="28.35" y="37.90" width="10.15" height="10.15" fill="#6e6e6e"/><rect x="37.90" y="37.90" width="10.15" height="10.15" fill="#bfbfbf"/><rect x="47.45" y="37.90" width="10.15" height="10.15" fill="#7b7b7b"/><rect x="57.00" y="37.90" width="10.15" height="10.15" fill="#dadada"/><rect x="66.55" y="37.90" width="10.15" height="10.15" fill="#dadada"/><rect x="76.10" y="37.90" width="10.15" height="10.15" fill="#dadada"/><rect x="-9.85" y="47.45" width="10.15" height="10.15" fill="#232323"/><rect x="-0.30" y="47.45" width="10.15" height="10.15" fill="#232323"/><rect x="9.25" y="47.45" width="10.15" height="10.15" fill="#3e3e3e"/><rect x="18.80" y="47.45" width="10.15" height="10.15" fill="#595959"/><rect x="28.35" y="47.45" width="10.15" height="10.15" fill="#606060"/><rect x="37.90" y="47.45" width="10.15" height="10.15" fill="#969696"/><rect x="47.45" y="47.45" width="10.15" height="10.15" fill="#a4a4a4"/><rect x="57.00" y="47.45" width="10.15" height="10.15" fill="#e7e7e7"/><rect x="66.55" y="47.45" width="10.15" height="10.15" fill="#dadada"/><rect x="76.10" y="47.45" width="10.15" height="10.15" fill="#dadada"/><rect x="-9.85" y="57.00" width="10.15" height="10.15" fill="#232323"/><rect x="-0.30" y="57.00" width="10.15" height="10.15" fill="#232323"/><rect x="9.25" y="57.00" width="10.15" height="10.15" fill="#3e3e3e"/><rect x="18.80" y="57.00" width="10.15" height="10.15" fill="#595959"/><rect x="28.35" y="57.00" width="10.15" height="10.15" fill="#606060"/><rect x="37.90" y="57.00" width="10.15" height="10.15" fill="#969696"/><rect x="47.45" y="57.00" width="10.15" height="10.15" fill="#a4a4a4"/><rect x="57.00" y="57.00" width="10.15" height="10.15" fill="#e7e7e7"/><rect x="66.55" y="57.00" width="10.15" height="10.15" fill="#dadada"/><rect x="76.10" y="57.00" width="10.15" height="10.15" fill="#dadada"/></g><rect x="-20" y="-20" width="116.4" height="97.3" transform="rotate(-14 38 28)" filter="url(#texV1)" opacity="0.6" style="mix-blend-mode:overlay"/><g filter="url(#bl1v)"><path d="M35.5 28L40.5 27L41.5 46L36.5 46Z" fill="#ffffff" opacity="0.7"/><path d="M1 -3L4 -3L3 40L0 40Z" fill="#d0d0d0" opacity="0.4"/><path d="M9 -3L12 -3L11 38L8 38Z" fill="#d0d0d0" opacity="0.4"/><path d="M19 -3L22 -3L25 26L22 26Z" fill="#d8d8d8" opacity="0.4"/><path d="M-3 44L10 43L12 60L-3 60Z" fill="#000000" opacity="0.4"/><path d="M44 -3L60 -3L62 20L48 24Z" fill="#000000" opacity="0.3"/></g></g><g transform="translate(52.6,271.1)" clip-path="url(#cpW)"><rect width="76.7" height="57.3" fill="#949494"/><rect width="76.7" height="57.3" filter="url(#texW1)" opacity="0.8" style="mix-blend-mode:overlay"/><rect width="76.7" height="57.3" filter="url(#hiW1)" opacity="0.5"/><rect x="24" y="-5" width="21" height="67.3" fill="#808080" opacity="0.55" filter="url(#bl15)"/><path d="M-2 21.3L26 20.5" stroke="#141414" stroke-width="3.2" opacity="0.85" filter="url(#bl07w)"/><path d="M26 20.5L44 20.0" stroke="#141414" stroke-width="3.2" opacity="0.51" filter="url(#bl07w)"/><path d="M44 20.0L78.7 19.3" stroke="#141414" stroke-width="3.2" opacity="0.85" filter="url(#bl07w)"/><path d="M-2 32.3L26 31.5" stroke="#141414" stroke-width="1.5" opacity="0.7" filter="url(#bl07w)"/><path d="M26 31.5L44 31.0" stroke="#141414" stroke-width="1.5" opacity="0.42" filter="url(#bl07w)"/><path d="M44 31.0L78.7 30.3" stroke="#141414" stroke-width="1.5" opacity="0.7" filter="url(#bl07w)"/><path d="M-2 38.8L26 38" stroke="#141414" stroke-width="1.3" opacity="0.65" filter="url(#bl07w)"/><path d="M26 38L44 37.5" stroke="#141414" stroke-width="1.3" opacity="0.39" filter="url(#bl07w)"/><path d="M44 37.5L78.7 36.8" stroke="#141414" stroke-width="1.3" opacity="0.65" filter="url(#bl07w)"/><path d="M-2 44.8L26 44" stroke="#141414" stroke-width="1.5" opacity="0.7" filter="url(#bl07w)"/><path d="M26 44L44 43.5" stroke="#141414" stroke-width="1.5" opacity="0.42" filter="url(#bl07w)"/><path d="M44 43.5L78.7 42.8" stroke="#141414" stroke-width="1.5" opacity="0.7" filter="url(#bl07w)"/><path d="M-2 50.8L26 50" stroke="#141414" stroke-width="1.2" opacity="0.55" filter="url(#bl07w)"/><path d="M26 50L44 49.5" stroke="#141414" stroke-width="1.2" opacity="0.33" filter="url(#bl07w)"/><path d="M44 49.5L78.7 48.8" stroke="#141414" stroke-width="1.2" opacity="0.55" filter="url(#bl07w)"/><path d="M-2 18.0L24 17.2M45 16.7L78.7 16.0" stroke="#f4f4f4" stroke-width="1.2" opacity="0.7" filter="url(#bl04)"/><path d="M-2 25.8L24 25M45 24.5L78.7 23.8" stroke="#f4f4f4" stroke-width="1.3" opacity="0.7" filter="url(#bl04)"/><path d="M-2 28.8L24 28M45 27.5L78.7 26.8" stroke="#f4f4f4" stroke-width="1.1" opacity="0.6" filter="url(#bl04)"/><path d="M-2 35.3L24 34.5M45 34.0L78.7 33.3" stroke="#f4f4f4" stroke-width="1.3" opacity="0.7" filter="url(#bl04)"/><path d="M-2 41.8L24 41M45 40.5L78.7 39.8" stroke="#f4f4f4" stroke-width="1.2" opacity="0.65" filter="url(#bl04)"/><path d="M-2 47.8L24 47M45 46.5L78.7 45.8" stroke="#f4f4f4" stroke-width="1.2" opacity="0.65" filter="url(#bl04)"/><path d="M-2 54.3L24 53.5M45 53.0L78.7 52.3" stroke="#f4f4f4" stroke-width="1.0" opacity="0.5" filter="url(#bl04)"/></g><g transform="translate(131.9,271.1)" clip-path="url(#cpV)"><g filter="url(#blg)"><rect x="-9.85" y="-9.85" width="10.15" height="10.15" fill="#676767"/><rect x="-0.30" y="-9.85" width="10.15" height="10.15" fill="#676767"/><rect x="9.25" y="-9.85" width="10.15" height="10.15" fill="#595959"/><rect x="18.80" y="-9.85" width="10.15" height="10.15" fill="#3e3e3e"/><rect x="28.35" y="-9.85" width="10.15" height="10.15" fill="#969696"/><rect x="37.90" y="-9.85" width="10.15" height="10.15" fill="#606060"/><rect x="47.45" y="-9.85" width="10.15" height="10.15" fill="#383838"/><rect x="57.00" y="-9.85" width="10.15" height="10.15" fill="#1d1d1d"/><rect x="66.55" y="-9.85" width="10.15" height="10.15" fill="#161616"/><rect x="76.10" y="-9.85" width="10.15" height="10.15" fill="#161616"/><rect x="-9.85" y="-0.30" width="10.15" height="10.15" fill="#676767"/><rect x="-0.30" y="-0.30" width="10.15" height="10.15" fill="#676767"/><rect x="9.25" y="-0.30" width="10.15" height="10.15" fill="#595959"/><rect x="18.80" y="-0.30" width="10.15" height="10.15" fill="#3e3e3e"/><rect x="28.35" y="-0.30" width="10.15" height="10.15" fill="#969696"/><rect x="37.90" y="-0.30" width="10.15" height="10.15" fill="#606060"/><rect x="47.45" y="-0.30" width="10.15" height="10.15" fill="#383838"/><rect x="57.00" y="-0.30" width="10.15" height="10.15" fill="#1d1d1d"/><rect x="66.55" y="-0.30" width="10.15" height="10.15" fill="#161616"/><rect x="76.10" y="-0.30" width="10.15" height="10.15" fill="#161616"/><rect x="-9.85" y="9.25" width="10.15" height="10.15" fill="#747474"/><rect x="-0.30" y="9.25" width="10.15" height="10.15" fill="#747474"/><rect x="9.25" y="9.25" width="10.15" height="10.15" fill="#595959"/><rect x="18.80" y="9.25" width="10.15" height="10.15" fill="#4c4c4c"/><rect x="28.35" y="9.25" width="10.15" height="10.15" fill="#898989"/><rect x="37.90" y="9.25" width="10.15" height="10.15" fill="#6e6e6e"/><rect x="47.45" y="9.25" width="10.15" height="10.15" fill="#454545"/><rect x="57.00" y="9.25" width="10.15" height="10.15" fill="#2a2a2a"/><rect x="66.55" y="9.25" width="10.15" height="10.15" fill="#232323"/><rect x="76.10" y="9.25" width="10.15" height="10.15" fill="#232323"/><rect x="-9.85" y="18.80" width="10.15" height="10.15" fill="#828282"/><rect x="-0.30" y="18.80" width="10.15" height="10.15" fill="#828282"/><rect x="9.25" y="18.80" width="10.15" height="10.15" fill="#595959"/><rect x="18.80" y="18.80" width="10.15" height="10.15" fill="#676767"/><rect x="28.35" y="18.80" width="10.15" height="10.15" fill="#6e6e6e"/><rect x="37.90" y="18.80" width="10.15" height="10.15" fill="#606060"/><rect x="47.45" y="18.80" width="10.15" height="10.15" fill="#535353"/><rect x="57.00" y="18.80" width="10.15" height="10.15" fill="#383838"/><rect x="66.55" y="18.80" width="10.15" height="10.15" fill="#2a2a2a"/><rect x="76.10" y="18.80" width="10.15" height="10.15" fill="#2a2a2a"/><rect x="-9.85" y="28.35" width="10.15" height="10.15" fill="#595959"/><rect x="-0.30" y="28.35" width="10.15" height="10.15" fill="#595959"/><rect x="9.25" y="28.35" width="10.15" height="10.15" fill="#676767"/><rect x="18.80" y="28.35" width="10.15" height="10.15" fill="#747474"/><rect x="28.35" y="28.35" width="10.15" height="10.15" fill="#969696"/><rect x="37.90" y="28.35" width="10.15" height="10.15" fill="#e7e7e7"/><rect x="47.45" y="28.35" width="10.15" height="10.15" fill="#535353"/><rect x="57.00" y="28.35" width="10.15" height="10.15" fill="#6e6e6e"/><rect x="66.55" y="28.35" width="10.15" height="10.15" fill="#7b7b7b"/><rect x="76.10" y="28.35" width="10.15" height="10.15" fill="#7b7b7b"/><rect x="-9.85" y="37.90" width="10.15" height="10.15" fill="#3e3e3e"/><rect x="-0.30" y="37.90" width="10.15" height="10.15" fill="#3e3e3e"/><rect x="9.25" y="37.90" width="10.15" height="10.15" fill="#676767"/><rect x="18.80" y="37.90" width="10.15" height="10.15" fill="#828282"/><rect x="28.35" y="37.90" width="10.15" height="10.15" fill="#6e6e6e"/><rect x="37.90" y="37.90" width="10.15" height="10.15" fill="#bfbfbf"/><rect x="47.45" y="37.90" width="10.15" height="10.15" fill="#7b7b7b"/><rect x="57.00" y="37.90" width="10.15" height="10.15" fill="#dadada"/><rect x="66.55" y="37.90" width="10.15" height="10.15" fill="#dadada"/><rect x="76.10" y="37.90" width="10.15" height="10.15" fill="#dadada"/><rect x="-9.85" y="47.45" width="10.15" height="10.15" fill="#232323"/><rect x="-0.30" y="47.45" width="10.15" height="10.15" fill="#232323"/><rect x="9.25" y="47.45" width="10.15" height="10.15" fill="#3e3e3e"/><rect x="18.80" y="47.45" width="10.15" height="10.15" fill="#595959"/><rect x="28.35" y="47.45" width="10.15" height="10.15" fill="#606060"/><rect x="37.90" y="47.45" width="10.15" height="10.15" fill="#969696"/><rect x="47.45" y="47.45" width="10.15" height="10.15" fill="#a4a4a4"/><rect x="57.00" y="47.45" width="10.15" height="10.15" fill="#e7e7e7"/><rect x="66.55" y="47.45" width="10.15" height="10.15" fill="#dadada"/><rect x="76.10" y="47.45" width="10.15" height="10.15" fill="#dadada"/><rect x="-9.85" y="57.00" width="10.15" height="10.15" fill="#232323"/><rect x="-0.30" y="57.00" width="10.15" height="10.15" fill="#232323"/><rect x="9.25" y="57.00" width="10.15" height="10.15" fill="#3e3e3e"/><rect x="18.80" y="57.00" width="10.15" height="10.15" fill="#595959"/><rect x="28.35" y="57.00" width="10.15" height="10.15" fill="#606060"/><rect x="37.90" y="57.00" width="10.15" height="10.15" fill="#969696"/><rect x="47.45" y="57.00" width="10.15" height="10.15" fill="#a4a4a4"/><rect x="57.00" y="57.00" width="10.15" height="10.15" fill="#e7e7e7"/><rect x="66.55" y="57.00" width="10.15" height="10.15" fill="#dadada"/><rect x="76.10" y="57.00" width="10.15" height="10.15" fill="#dadada"/></g><rect x="-20" y="-20" width="116.4" height="97.3" transform="rotate(-14 38 28)" filter="url(#texV0)" opacity="0.6" style="mix-blend-mode:overlay"/><g filter="url(#bl1v)"><path d="M35.5 28L40.5 27L41.5 46L36.5 46Z" fill="#ffffff" opacity="0.7"/><path d="M1 -3L4 -3L3 40L0 40Z" fill="#d0d0d0" opacity="0.4"/><path d="M9 -3L12 -3L11 38L8 38Z" fill="#d0d0d0" opacity="0.4"/><path d="M19 -3L22 -3L25 26L22 26Z" fill="#d8d8d8" opacity="0.4"/><path d="M-3 44L10 43L12 60L-3 60Z" fill="#000000" opacity="0.4"/><path d="M44 -3L60 -3L62 20L48 24Z" fill="#000000" opacity="0.3"/></g></g><g transform="translate(52.6,331.2)" clip-path="url(#cpW)"><rect width="76.7" height="57.3" fill="#949494"/><rect width="76.7" height="57.3" filter="url(#texW2)" opacity="0.8" style="mix-blend-mode:overlay"/><rect width="76.7" height="57.3" filter="url(#hiW2)" opacity="0.5"/><rect x="24" y="-5" width="21" height="67.3" fill="#808080" opacity="0.55" filter="url(#bl15)"/><path d="M-2 21.3L26 20.5" stroke="#141414" stroke-width="3.2" opacity="0.85" filter="url(#bl07w)"/><path d="M26 20.5L44 20.0" stroke="#141414" stroke-width="3.2" opacity="0.51" filter="url(#bl07w)"/><path d="M44 20.0L78.7 19.3" stroke="#141414" stroke-width="3.2" opacity="0.85" filter="url(#bl07w)"/><path d="M-2 32.3L26 31.5" stroke="#141414" stroke-width="1.5" opacity="0.7" filter="url(#bl07w)"/><path d="M26 31.5L44 31.0" stroke="#141414" stroke-width="1.5" opacity="0.42" filter="url(#bl07w)"/><path d="M44 31.0L78.7 30.3" stroke="#141414" stroke-width="1.5" opacity="0.7" filter="url(#bl07w)"/><path d="M-2 38.8L26 38" stroke="#141414" stroke-width="1.3" opacity="0.65" filter="url(#bl07w)"/><path d="M26 38L44 37.5" stroke="#141414" stroke-width="1.3" opacity="0.39" filter="url(#bl07w)"/><path d="M44 37.5L78.7 36.8" stroke="#141414" stroke-width="1.3" opacity="0.65" filter="url(#bl07w)"/><path d="M-2 44.8L26 44" stroke="#141414" stroke-width="1.5" opacity="0.7" filter="url(#bl07w)"/><path d="M26 44L44 43.5" stroke="#141414" stroke-width="1.5" opacity="0.42" filter="url(#bl07w)"/><path d="M44 43.5L78.7 42.8" stroke="#141414" stroke-width="1.5" opacity="0.7" filter="url(#bl07w)"/><path d="M-2 50.8L26 50" stroke="#141414" stroke-width="1.2" opacity="0.55" filter="url(#bl07w)"/><path d="M26 50L44 49.5" stroke="#141414" stroke-width="1.2" opacity="0.33" filter="url(#bl07w)"/><path d="M44 49.5L78.7 48.8" stroke="#141414" stroke-width="1.2" opacity="0.55" filter="url(#bl07w)"/><path d="M-2 18.0L24 17.2M45 16.7L78.7 16.0" stroke="#f4f4f4" stroke-width="1.2" opacity="0.7" filter="url(#bl04)"/><path d="M-2 25.8L24 25M45 24.5L78.7 23.8" stroke="#f4f4f4" stroke-width="1.3" opacity="0.7" filter="url(#bl04)"/><path d="M-2 28.8L24 28M45 27.5L78.7 26.8" stroke="#f4f4f4" stroke-width="1.1" opacity="0.6" filter="url(#bl04)"/><path d="M-2 35.3L24 34.5M45 34.0L78.7 33.3" stroke="#f4f4f4" stroke-width="1.3" opacity="0.7" filter="url(#bl04)"/><path d="M-2 41.8L24 41M45 40.5L78.7 39.8" stroke="#f4f4f4" stroke-width="1.2" opacity="0.65" filter="url(#bl04)"/><path d="M-2 47.8L24 47M45 46.5L78.7 45.8" stroke="#f4f4f4" stroke-width="1.2" opacity="0.65" filter="url(#bl04)"/><path d="M-2 54.3L24 53.5M45 53.0L78.7 52.3" stroke="#f4f4f4" stroke-width="1.0" opacity="0.5" filter="url(#bl04)"/></g><g transform="translate(131.9,331.2)" clip-path="url(#cpV)"><g filter="url(#blg)"><rect x="-9.85" y="-9.85" width="10.15" height="10.15" fill="#676767"/><rect x="-0.30" y="-9.85" width="10.15" height="10.15" fill="#676767"/><rect x="9.25" y="-9.85" width="10.15" height="10.15" fill="#595959"/><rect x="18.80" y="-9.85" width="10.15" height="10.15" fill="#3e3e3e"/><rect x="28.35" y="-9.85" width="10.15" height="10.15" fill="#969696"/><rect x="37.90" y="-9.85" width="10.15" height="10.15" fill="#606060"/><rect x="47.45" y="-9.85" width="10.15" height="10.15" fill="#383838"/><rect x="57.00" y="-9.85" width="10.15" height="10.15" fill="#1d1d1d"/><rect x="66.55" y="-9.85" width="10.15" height="10.15" fill="#161616"/><rect x="76.10" y="-9.85" width="10.15" height="10.15" fill="#161616"/><rect x="-9.85" y="-0.30" width="10.15" height="10.15" fill="#676767"/><rect x="-0.30" y="-0.30" width="10.15" height="10.15" fill="#676767"/><rect x="9.25" y="-0.30" width="10.15" height="10.15" fill="#595959"/><rect x="18.80" y="-0.30" width="10.15" height="10.15" fill="#3e3e3e"/><rect x="28.35" y="-0.30" width="10.15" height="10.15" fill="#969696"/><rect x="37.90" y="-0.30" width="10.15" height="10.15" fill="#606060"/><rect x="47.45" y="-0.30" width="10.15" height="10.15" fill="#383838"/><rect x="57.00" y="-0.30" width="10.15" height="10.15" fill="#1d1d1d"/><rect x="66.55" y="-0.30" width="10.15" height="10.15" fill="#161616"/><rect x="76.10" y="-0.30" width="10.15" height="10.15" fill="#161616"/><rect x="-9.85" y="9.25" width="10.15" height="10.15" fill="#747474"/><rect x="-0.30" y="9.25" width="10.15" height="10.15" fill="#747474"/><rect x="9.25" y="9.25" width="10.15" height="10.15" fill="#595959"/><rect x="18.80" y="9.25" width="10.15" height="10.15" fill="#4c4c4c"/><rect x="28.35" y="9.25" width="10.15" height="10.15" fill="#898989"/><rect x="37.90" y="9.25" width="10.15" height="10.15" fill="#6e6e6e"/><rect x="47.45" y="9.25" width="10.15" height="10.15" fill="#454545"/><rect x="57.00" y="9.25" width="10.15" height="10.15" fill="#2a2a2a"/><rect x="66.55" y="9.25" width="10.15" height="10.15" fill="#232323"/><rect x="76.10" y="9.25" width="10.15" height="10.15" fill="#232323"/><rect x="-9.85" y="18.80" width="10.15" height="10.15" fill="#828282"/><rect x="-0.30" y="18.80" width="10.15" height="10.15" fill="#828282"/><rect x="9.25" y="18.80" width="10.15" height="10.15" fill="#595959"/><rect x="18.80" y="18.80" width="10.15" height="10.15" fill="#676767"/><rect x="28.35" y="18.80" width="10.15" height="10.15" fill="#6e6e6e"/><rect x="37.90" y="18.80" width="10.15" height="10.15" fill="#606060"/><rect x="47.45" y="18.80" width="10.15" height="10.15" fill="#535353"/><rect x="57.00" y="18.80" width="10.15" height="10.15" fill="#383838"/><rect x="66.55" y="18.80" width="10.15" height="10.15" fill="#2a2a2a"/><rect x="76.10" y="18.80" width="10.15" height="10.15" fill="#2a2a2a"/><rect x="-9.85" y="28.35" width="10.15" height="10.15" fill="#595959"/><rect x="-0.30" y="28.35" width="10.15" height="10.15" fill="#595959"/><rect x="9.25" y="28.35" width="10.15" height="10.15" fill="#676767"/><rect x="18.80" y="28.35" width="10.15" height="10.15" fill="#747474"/><rect x="28.35" y="28.35" width="10.15" height="10.15" fill="#969696"/><rect x="37.90" y="28.35" width="10.15" height="10.15" fill="#e7e7e7"/><rect x="47.45" y="28.35" width="10.15" height="10.15" fill="#535353"/><rect x="57.00" y="28.35" width="10.15" height="10.15" fill="#6e6e6e"/><rect x="66.55" y="28.35" width="10.15" height="10.15" fill="#7b7b7b"/><rect x="76.10" y="28.35" width="10.15" height="10.15" fill="#7b7b7b"/><rect x="-9.85" y="37.90" width="10.15" height="10.15" fill="#3e3e3e"/><rect x="-0.30" y="37.90" width="10.15" height="10.15" fill="#3e3e3e"/><rect x="9.25" y="37.90" width="10.15" height="10.15" fill="#676767"/><rect x="18.80" y="37.90" width="10.15" height="10.15" fill="#828282"/><rect x="28.35" y="37.90" width="10.15" height="10.15" fill="#6e6e6e"/><rect x="37.90" y="37.90" width="10.15" height="10.15" fill="#bfbfbf"/><rect x="47.45" y="37.90" width="10.15" height="10.15" fill="#7b7b7b"/><rect x="57.00" y="37.90" width="10.15" height="10.15" fill="#dadada"/><rect x="66.55" y="37.90" width="10.15" height="10.15" fill="#dadada"/><rect x="76.10" y="37.90" width="10.15" height="10.15" fill="#dadada"/><rect x="-9.85" y="47.45" width="10.15" height="10.15" fill="#232323"/><rect x="-0.30" y="47.45" width="10.15" height="10.15" fill="#232323"/><rect x="9.25" y="47.45" width="10.15" height="10.15" fill="#3e3e3e"/><rect x="18.80" y="47.45" width="10.15" height="10.15" fill="#595959"/><rect x="28.35" y="47.45" width="10.15" height="10.15" fill="#606060"/><rect x="37.90" y="47.45" width="10.15" height="10.15" fill="#969696"/><rect x="47.45" y="47.45" width="10.15" height="10.15" fill="#a4a4a4"/><rect x="57.00" y="47.45" width="10.15" height="10.15" fill="#e7e7e7"/><rect x="66.55" y="47.45" width="10.15" height="10.15" fill="#dadada"/><rect x="76.10" y="47.45" width="10.15" height="10.15" fill="#dadada"/><rect x="-9.85" y="57.00" width="10.15" height="10.15" fill="#232323"/><rect x="-0.30" y="57.00" width="10.15" height="10.15" fill="#232323"/><rect x="9.25" y="57.00" width="10.15" height="10.15" fill="#3e3e3e"/><rect x="18.80" y="57.00" width="10.15" height="10.15" fill="#595959"/><rect x="28.35" y="57.00" width="10.15" height="10.15" fill="#606060"/><rect x="37.90" y="57.00" width="10.15" height="10.15" fill="#969696"/><rect x="47.45" y="57.00" width="10.15" height="10.15" fill="#a4a4a4"/><rect x="57.00" y="57.00" width="10.15" height="10.15" fill="#e7e7e7"/><rect x="66.55" y="57.00" width="10.15" height="10.15" fill="#dadada"/><rect x="76.10" y="57.00" width="10.15" height="10.15" fill="#dadada"/></g><rect x="-20" y="-20" width="116.4" height="97.3" transform="rotate(-14 38 28)" filter="url(#texV1)" opacity="0.6" style="mix-blend-mode:overlay"/><g filter="url(#bl1v)"><path d="M35.5 28L40.5 27L41.5 46L36.5 46Z" fill="#ffffff" opacity="0.7"/><path d="M1 -3L4 -3L3 40L0 40Z" fill="#d0d0d0" opacity="0.4"/><path d="M9 -3L12 -3L11 38L8 38Z" fill="#d0d0d0" opacity="0.4"/><path d="M19 -3L22 -3L25 26L22 26Z" fill="#d8d8d8" opacity="0.4"/><path d="M-3 44L10 43L12 60L-3 60Z" fill="#000000" opacity="0.4"/><path d="M44 -3L60 -3L62 20L48 24Z" fill="#000000" opacity="0.3"/></g></g>
<path d="M94.2 113.6C97.8 113.2 101 117 100.8 122.7C100.3 130 95.2 137 91.8 141.6C90 135 88.2 129 88.4 124C88.8 118.5 91 114 94.2 113.6Z" fill="#600404" filter="url(#bb)"/><path d="M94.3 114.8C97.2 114.5 99.7 117.6 99.6 122.6C99.2 129 94.8 135 92.2 139.2C90.8 134 89.5 129 89.6 124.2C89.9 119 91.7 115.2 94.3 114.8Z" fill="url(#gRed)"/><path d="M146.5 120.5C153 114 162 104.8 171.5 101.4C174.5 100.6 177 101.3 178.3 104C179.6 108 179.5 112 178.9 114.4C176.5 119.5 172.3 123.4 168.6 124.7C163 126 157.5 125.6 152.7 124C149.7 123 147.6 121.8 146.5 120.5Z" fill="#5a0404" filter="url(#bb)"/><path d="M148.3 120.4C154 115 162.5 106 171.6 102.7C174 102.1 176 102.7 177.1 104.8C178.2 108.2 178.1 111.6 177.6 113.8C175.4 118.5 171.6 122 168.3 123.2C163 124.4 158 124.1 153.5 122.7C150.9 121.9 149.2 121.2 148.3 120.4Z" fill="url(#gRed2)"/><path d="M97.80 166.60C88.37 173.66 87.49 184.06 95.60 192.60C107.69 185.77 108.57 175.37 97.80 166.60Z" fill="#18300a" filter="url(#bb)"/><path d="M97.60 168.20C89.88 174.47 89.16 183.59 95.80 191.00C105.91 184.92 106.63 175.80 97.60 168.20Z" fill="#24420e" filter="url(#bb)"/><path d="M97.40 172.00C93.05 176.98 92.57 183.98 96.20 189.50C100.28 184.51 100.76 177.51 97.40 172.00Z" fill="#b03010" filter="url(#bb1)"/><path d="M97.20 175.00C94.70 178.45 94.38 183.25 96.40 187.00C98.64 183.53 98.96 178.73 97.20 175.00Z" fill="#f04018" filter="url(#bb1)"/><path d="M98.90 224.20C88.53 230.48 89.01 248.48 99.70 254.20C111.00 247.89 110.52 229.89 98.90 224.20Z" fill="#16380c" filter="url(#bb)"/><path d="M98.95 226.00C91.22 231.49 91.65 247.33 99.65 252.40C108.31 246.89 107.89 231.05 98.95 226.00Z" fill="url(#gLeaf)" filter="url(#bb)"/><path d="M98.60 231.00C96.75 236.36 96.59 243.56 98.20 249.00C99.92 243.64 100.08 236.44 98.60 231.00Z" fill="#c8601c" filter="url(#bb1)" opacity="0.95"/><path d="M97.60 283.00C84.77 289.91 85.07 310.07 98.10 316.60C110.27 309.70 109.97 289.54 97.60 283.00Z" fill="#16380c" filter="url(#bb)"/><path d="M97.63 285.02C87.45 291.08 87.72 308.82 98.07 314.58C107.58 308.53 107.32 290.79 97.63 285.02Z" fill="url(#gLeafB)" filter="url(#bb)"/><path d="M98.30 294.00C96.48 298.16 96.36 303.76 98.00 308.00C99.69 303.83 99.81 298.23 98.30 294.00Z" fill="#b8821e" filter="url(#bb1)" opacity="0.95"/><path d="M98.10 342.60C84.66 349.72 85.14 370.12 98.90 376.60C111.54 369.50 111.06 349.10 98.10 342.60Z" fill="#16380c" filter="url(#bb)"/><path d="M98.15 344.64C87.36 350.88 87.78 368.83 98.85 374.56C108.84 368.34 108.42 350.39 98.15 344.64Z" fill="url(#gLeafB)" filter="url(#bb)"/><path d="M98.50 352.00C96.74 357.39 96.70 364.59 98.40 370.00C100.03 364.61 100.07 357.41 98.50 352.00Z" fill="#b8861e" filter="url(#bb1)" opacity="0.95"/><path d="M151.50 176.60C163.56 176.68 174.40 171.08 178.60 162.60C169.62 161.84 158.78 167.44 151.50 176.60Z" fill="#1e2c0a" filter="url(#bb)"/><path d="M154.00 175.20C163.85 174.71 173.05 170.07 177.00 163.60C169.75 163.52 160.55 168.16 154.00 175.20Z" fill="#9a2410" filter="url(#bb1)"/><path d="M160.00 172.00C165.39 171.54 171.39 168.54 175.00 164.50C169.72 165.20 163.72 168.20 160.00 172.00Z" fill="#c83a16" filter="url(#bb1)"/><path d="M150.50 238.50C171.91 237.94 184.30 232.76 184.00 224.50C178.96 219.96 166.56 225.14 150.50 238.50Z" fill="#203a0c" filter="url(#bb)"/><path d="M153.00 237.40C171.57 236.36 182.48 231.84 182.50 225.20C178.41 221.99 167.49 226.50 153.00 237.40Z" fill="#4a8a1c" filter="url(#bb1)"/><path d="M162.00 235.00C168.46 235.50 175.26 232.30 179.00 227.00C172.76 226.99 165.96 230.19 162.00 235.00Z" fill="#c0701e" filter="url(#bb1)"/><path d="M145.50 300.50C169.49 299.14 183.55 293.25 183.50 284.60C178.61 281.44 164.55 287.33 145.50 300.50Z" fill="#1e380a" filter="url(#bb)"/><path d="M148.50 299.30C169.38 297.57 181.77 292.42 182.00 285.40C177.99 283.31 165.60 288.45 148.50 299.30Z" fill="#52a022" filter="url(#bb1)"/><path d="M162.00 294.50C167.90 295.27 174.30 292.67 178.00 288.00C172.30 287.73 165.90 290.33 162.00 294.50Z" fill="#c08a22" filter="url(#bb1)"/><path d="M145.00 361.50C167.62 360.06 180.75 354.33 180.50 346.00C175.74 342.84 162.60 348.58 145.00 361.50Z" fill="#1e380a" filter="url(#bb)"/><path d="M148.00 360.20C167.48 358.46 178.95 353.50 179.00 346.80C175.14 344.69 163.67 349.65 148.00 360.20Z" fill="#54a424" filter="url(#bb1)"/><path d="M160.00 355.50C165.59 356.42 171.59 354.02 175.00 349.50C169.61 349.07 163.61 351.47 160.00 355.50Z" fill="#c08a22" filter="url(#bb1)"/>
<rect x="262.3" y="33.6" width="254.7" height="136.3" fill="none" stroke="#1a1a1a" stroke-width="1.1"/><path d="M262.30 169.9v-5.5M262.30 33.6v5.5M266.71 169.9v-3M266.71 33.6v3M271.12 169.9v-3M271.12 33.6v3M275.53 169.9v-3M275.53 33.6v3M279.94 169.9v-3M279.94 33.6v3M284.35 169.9v-4.3M284.35 33.6v4.3M288.76 169.9v-3M288.76 33.6v3M293.17 169.9v-3M293.17 33.6v3M297.58 169.9v-3M297.58 33.6v3M301.99 169.9v-3M301.99 33.6v3M306.40 169.9v-5.5M306.40 33.6v5.5M310.81 169.9v-3M310.81 33.6v3M315.22 169.9v-3M315.22 33.6v3M319.63 169.9v-3M319.63 33.6v3M324.04 169.9v-3M324.04 33.6v3M328.45 169.9v-4.3M328.45 33.6v4.3M332.86 169.9v-3M332.86 33.6v3M337.27 169.9v-3M337.27 33.6v3M341.68 169.9v-3M341.68 33.6v3M346.09 169.9v-3M346.09 33.6v3M350.50 169.9v-5.5M350.50 33.6v5.5M354.91 169.9v-3M354.91 33.6v3M359.32 169.9v-3M359.32 33.6v3M363.73 169.9v-3M363.73 33.6v3M368.14 169.9v-3M368.14 33.6v3M372.55 169.9v-4.3M372.55 33.6v4.3M376.96 169.9v-3M376.96 33.6v3M381.37 169.9v-3M381.37 33.6v3M385.78 169.9v-3M385.78 33.6v3M390.19 169.9v-3M390.19 33.6v3M394.60 169.9v-5.5M394.60 33.6v5.5M399.01 169.9v-3M399.01 33.6v3M403.42 169.9v-3M403.42 33.6v3M407.83 169.9v-3M407.83 33.6v3M412.24 169.9v-3M412.24 33.6v3M416.65 169.9v-4.3M416.65 33.6v4.3M421.06 169.9v-3M421.06 33.6v3M425.47 169.9v-3M425.47 33.6v3M429.88 169.9v-3M429.88 33.6v3M434.29 169.9v-3M434.29 33.6v3M438.70 169.9v-5.5M438.70 33.6v5.5M443.11 169.9v-3M443.11 33.6v3M447.52 169.9v-3M447.52 33.6v3M451.93 169.9v-3M451.93 33.6v3M456.34 169.9v-3M456.34 33.6v3M460.75 169.9v-4.3M460.75 33.6v4.3M465.16 169.9v-3M465.16 33.6v3M469.57 169.9v-3M469.57 33.6v3M473.98 169.9v-3M473.98 33.6v3M478.39 169.9v-3M478.39 33.6v3M482.80 169.9v-5.5M482.80 33.6v5.5M487.21 169.9v-3M487.21 33.6v3M491.62 169.9v-3M491.62 33.6v3M496.03 169.9v-3M496.03 33.6v3M500.44 169.9v-3M500.44 33.6v3M504.85 169.9v-4.3M504.85 33.6v4.3M509.26 169.9v-3M509.26 33.6v3M513.67 169.9v-3M513.67 33.6v3" stroke="#1a1a1a" stroke-width="1" fill="none"/><path d="M262.3 169.90h5.5M517.0 169.90h-5.5M262.3 165.20h3M517.0 165.20h-3M262.3 160.50h3M517.0 160.50h-3M262.3 155.80h3M517.0 155.80h-3M262.3 151.10h3M517.0 151.10h-3M262.3 146.40h5.5M517.0 146.40h-5.5M262.3 141.70h3M517.0 141.70h-3M262.3 137.00h3M517.0 137.00h-3M262.3 132.30h3M517.0 132.30h-3M262.3 127.60h3M517.0 127.60h-3M262.3 122.90h5.5M517.0 122.90h-5.5M262.3 118.20h3M517.0 118.20h-3M262.3 113.50h3M517.0 113.50h-3M262.3 108.80h3M517.0 108.80h-3M262.3 104.10h3M517.0 104.10h-3M262.3 99.40h5.5M517.0 99.40h-5.5M262.3 94.70h3M517.0 94.70h-3M262.3 90.00h3M517.0 90.00h-3M262.3 85.30h3M517.0 85.30h-3M262.3 80.60h3M517.0 80.60h-3M262.3 75.90h5.5M517.0 75.90h-5.5M262.3 71.20h3M517.0 71.20h-3M262.3 66.50h3M517.0 66.50h-3M262.3 61.80h3M517.0 61.80h-3M262.3 57.10h3M517.0 57.10h-3M262.3 52.40h5.5M517.0 52.40h-5.5M262.3 47.70h3M517.0 47.70h-3M262.3 43.00h3M517.0 43.00h-3M262.3 38.30h3M517.0 38.30h-3M262.3 33.60h3M517.0 33.60h-3" stroke="#1a1a1a" stroke-width="1" fill="none"/><text x="258.6" y="172.7" font-family="Liberation Sans" font-size="8.6" text-anchor="end" fill="#2a2a2a">0.0</text><text x="258.6" y="149.2" font-family="Liberation Sans" font-size="8.6" text-anchor="end" fill="#2a2a2a">0.5</text><text x="258.6" y="125.7" font-family="Liberation Sans" font-size="8.6" text-anchor="end" fill="#2a2a2a">1.0</text><text x="258.6" y="102.2" font-family="Liberation Sans" font-size="8.6" text-anchor="end" fill="#2a2a2a">1.5</text><text x="258.6" y="78.7" font-family="Liberation Sans" font-size="8.6" text-anchor="end" fill="#2a2a2a">2.0</text><text x="255.6" y="57.4" font-family="Liberation Sans" font-size="8.6" text-anchor="end" fill="#2a2a2a">2.5x10</text><text x="256.2" y="50.9" font-family="Liberation Sans" font-size="5" fill="#222">6</text><text x="262.3" y="181.9" font-family="Liberation Sans" font-size="8.6" text-anchor="middle" fill="#2a2a2a">0</text><text x="306.4" y="181.9" font-family="Liberation Sans" font-size="8.6" text-anchor="middle" fill="#2a2a2a">200</text><text x="350.5" y="181.9" font-family="Liberation Sans" font-size="8.6" text-anchor="middle" fill="#2a2a2a">400</text><text x="394.6" y="181.9" font-family="Liberation Sans" font-size="8.6" text-anchor="middle" fill="#2a2a2a">600</text><text x="438.7" y="181.9" font-family="Liberation Sans" font-size="8.6" text-anchor="middle" fill="#2a2a2a">800</text><text x="482.8" y="181.9" font-family="Liberation Sans" font-size="8.6" text-anchor="middle" fill="#2a2a2a">1000</text><text x="369.5" y="192.4" font-family="Liberation Sans" font-size="12.5" font-weight="bold" fill="#111">Time (s)</text><text transform="translate(236.2,129.3) rotate(-90)" font-family="Liberation Sans" font-weight="bold" fill="#111"><tspan font-size="13.4">MFI</tspan><tspan font-size="8.8" dy="2.9" dx="-0.3">Platelets</tspan></text><text x="467.3" y="54" font-family="Liberation Sans" font-size="9" font-weight="bold" text-anchor="end" fill="#111">WT</text><text x="428.6" y="65.2" font-family="Liberation Sans" font-size="9.45" font-weight="bold" fill="#111">VAMP-7<tspan font-size="6.2" dy="-3.6" dx="0.3" font-weight="normal" letter-spacing="0.3">-/-</tspan></text><path d="M475.8 49.6H500.4" stroke="#dc1414" stroke-width="2.3"/><path d="M475.8 60.8H500.4" stroke="#5a1010" stroke-width="2.3"/><path d="M262.30 170.00 262.50 167.61 263.40 148.99 264.30 130.95 265.20 111.54 266.20 107.88 267.00 117.39 268.00 136.50 268.90 140.76 269.80 125.17 270.70 99.67 271.60 60.59 272.55 56.71 273.50 53.60 274.50 74.02 275.45 76.62 276.40 78.14 277.30 84.33 278.20 98.64 279.20 114.08 280.10 92.76 281.00 95.70 282.00 104.71 282.95 108.55 283.90 112.35 284.85 114.34 285.80 118.27 286.60 124.23 287.40 122.82 288.20 123.56 289.00 124.50 289.85 124.70 290.70 123.08 291.53 125.28 292.37 126.70 293.20 128.03 294.10 128.12 295.00 127.90 295.60 146.52 296.20 125.32 296.50 125.15 297.33 127.48 298.17 130.35 299.00 130.74 299.67 130.82 300.33 131.40 301.00 132.58 301.67 132.13 302.33 133.33 303.00 131.68 303.70 133.76 304.40 133.99 305.10 132.80 305.80 134.03 306.50 134.95 307.20 134.55 308.20 135.10 308.80 146.42 309.40 134.16 310.35 133.68 311.30 133.24 311.97 134.20 312.64 133.81 313.31 133.94 313.99 134.09 314.66 134.66 315.33 133.75 316.00 133.58 316.60 148.04 317.20 135.72 317.97 135.14 318.73 136.11 319.50 135.29 320.21 135.03 320.91 135.94 321.62 135.79 322.33 135.26 323.04 135.66 323.74 137.43 324.45 136.76 325.16 136.98 325.86 136.74 326.57 136.67 327.28 137.80 327.99 137.38 328.69 137.17 329.40 137.72 330.09 137.39 330.78 138.18 331.47 138.88 332.17 137.83 332.86 139.32 333.55 138.20 334.24 138.83 334.93 138.36 335.62 138.87 336.32 139.16 337.01 139.01 337.70 138.98 338.47 140.73 339.23 142.37 340.00 143.66 340.75 145.79 341.50 147.54 342.25 149.20 343.00 150.39 343.75 155.97 344.50 159.19 345.17 158.06 345.83 158.79 346.50 156.37 347.25 153.08 348.00 147.43 348.70 148.21 349.40 146.82 350.10 148.54 350.80 147.91 351.50 147.42 352.20 149.01 352.90 148.46 353.60 148.03 354.30 147.55 355.00 147.97 355.75 151.90 356.50 156.43 357.25 155.98 358.00 154.60 358.67 152.17 359.33 149.68 360.00 146.69 360.67 144.98 361.33 143.11 362.00 141.41 362.67 141.76 363.33 140.45 364.00 141.23 364.67 140.60 365.33 142.08 366.00 140.77 366.67 141.83 367.33 141.70 368.00 142.51 368.67 143.85 369.33 144.24 370.00 145.41 370.68 144.32 371.36 145.72 372.05 144.84 372.73 146.47 373.41 145.32 374.09 146.21 374.77 144.78 375.45 145.93 376.14 145.20 376.82 145.50 377.50 145.86 378.18 145.72 378.86 146.13 379.55 146.48 380.23 146.48 380.91 146.09 381.59 145.39 382.27 145.78 382.95 146.21 383.64 145.11 384.32 146.89 385.00 146.36 385.67 146.42 386.33 147.22 387.00 147.12 387.67 146.93 388.33 146.27 389.00 147.13 389.67 147.22 390.33 146.56 391.00 147.79 391.67 147.54 392.33 146.12 393.00 147.45 393.67 146.69 394.33 148.21 395.00 148.08 395.67 146.80 396.33 146.79 397.00 147.24 397.67 146.90 398.33 147.82 399.00 147.20 399.67 146.45 400.33 146.83 401.00 145.12 401.67 146.39 402.33 146.58 403.00 145.81 403.67 145.35 404.33 145.98 405.00 146.68 405.71 145.92 406.43 145.43 407.14 147.27 407.86 145.57 408.57 147.30 409.29 146.95 410.00 148.16 410.68 147.13 411.36 148.48 412.05 147.90 412.73 146.73 413.41 146.62 414.09 147.66 414.77 148.66 415.45 148.00 416.14 148.01 416.82 147.87 417.50 148.49 418.18 148.32 418.86 148.30 419.55 147.58 420.23 148.93 420.91 149.07 421.59 147.51 422.27 149.72 422.95 148.81 423.64 148.13 424.32 147.32 425.00 148.89 425.68 148.88 426.36 148.24 427.05 147.58 427.73 149.37 428.41 148.40 429.09 148.52 429.77 150.56 430.45 150.18 431.14 149.52 431.82 148.73 432.50 149.44 433.18 147.73 433.86 149.21 434.55 148.74 435.23 148.48 435.91 148.35 436.59 149.67 437.27 149.45 437.95 149.55 438.64 150.01 439.32 149.04 440.00 148.86 440.69 148.56 441.38 149.46 442.08 150.15 442.77 149.63 443.46 150.14 444.15 149.08 444.85 149.53 445.54 149.39 446.23 149.13 446.92 151.02 447.62 150.45 448.31 149.51 449.00 149.54 450.00 156.97 451.00 149.13 451.67 149.66 452.33 148.02 453.00 147.98 453.67 146.99 454.33 146.71 455.00 145.60 455.75 146.61 456.50 148.12 457.25 149.44 458.00 150.82 458.67 151.11 459.33 152.05 460.00 151.69 460.67 151.11 461.33 151.77 462.00 150.99 462.67 152.34 463.33 151.86 464.00 150.79 464.67 152.12 465.33 152.22 466.00 150.19 466.67 151.42 467.33 151.65 468.00 150.84 468.67 151.43 469.33 151.56 470.00 152.50 470.68 152.39 471.36 153.80 472.04 152.00 472.72 152.94 473.40 152.31 474.08 152.43 474.76 151.59 475.44 151.15 476.12 151.85 476.80 152.78 477.48 153.28 478.16 152.71 478.84 152.65 479.52 151.86 480.20 153.30 480.88 153.20 481.56 152.09 482.24 152.39 482.92 151.83 483.60 153.32 484.28 152.70 484.96 152.41 485.64 152.72 486.32 152.75 487.00 152.25 487.50 154.26 488.00 151.73 488.67 151.46 489.33 152.78 490.00 153.83 490.67 151.48 491.33 152.58 492.00 152.75 492.67 151.91 493.33 152.62 494.00 151.84 494.67 153.22 495.33 152.14 496.00 152.56 496.67 152.91 497.33 152.24 498.00 151.43 498.67 152.18 499.33 152.96 500.00 152.45 500.50 155.14 501.00 151.85 501.67 152.58 502.33 152.92 503.00 152.50 503.67 153.61 504.33 152.33 505.00 151.83 505.67 151.47 506.33 153.12 507.00 152.39 507.67 153.02 508.33 152.68 509.00 153.38 509.67 153.15 510.33 152.16 511.00 152.54 511.67 153.02 512.33 151.62 513.00 153.22 513.67 153.07 514.33 152.92 515.00 152.20 515.67 152.50 516.33 151.64 517.00 152.30" fill="none" stroke="#6e0c0c" stroke-width="2.6" stroke-linejoin="round" stroke-linecap="round"/><path d="M262.30 170.00 263.40 149.46 264.10 145.14 264.80 140.40 265.50 135.14 266.20 131.61 267.10 135.05 268.00 138.26 268.90 140.56 269.80 122.36 270.50 113.23 271.20 104.01 272.30 87.95 273.20 70.67 273.90 62.78 274.60 54.48 275.30 47.57 276.00 39.92 277.30 33.07 278.15 36.20 279.00 39.78 279.80 46.50 280.60 54.58 281.50 63.58 282.20 70.45 283.50 76.78 284.70 81.15 285.80 89.92 286.50 93.31 287.20 97.10 288.10 98.55 289.00 100.85 289.75 99.95 290.50 100.83 291.50 105.72 292.33 108.39 293.17 111.70 294.00 114.47 294.83 115.89 295.67 118.64 296.50 120.55 297.18 120.50 297.87 121.29 298.55 122.12 299.23 122.27 299.92 123.21 300.60 123.84 301.43 125.04 302.25 126.02 303.07 127.74 303.90 129.10 304.72 129.87 305.55 130.38 306.38 132.10 307.20 132.57 307.93 133.61 308.65 133.14 309.38 134.45 310.10 134.44 310.82 134.30 311.55 135.13 312.27 135.71 313.00 136.22 313.72 136.21 314.44 136.71 315.17 137.86 315.89 138.11 316.61 138.98 317.33 139.78 318.06 139.25 318.78 140.66 319.50 141.65 320.19 141.24 320.88 141.29 321.57 142.26 322.27 142.31 322.96 142.88 323.65 142.59 324.34 142.36 325.03 143.25 325.73 143.37 326.42 144.20 327.11 144.21 327.80 143.67 328.48 144.00 329.17 145.06 329.85 145.11 330.53 144.65 331.22 145.07 331.90 145.40 332.58 145.54 333.27 145.86 333.95 145.72 334.63 145.69 335.32 145.75 336.00 146.48 336.67 145.12 337.33 146.20 338.00 146.41 338.67 145.89 339.33 146.82 340.00 146.51 340.67 147.24 341.33 146.85 342.00 147.26 342.67 147.56 343.33 147.24 344.00 146.73 344.67 146.49 345.33 148.02 346.00 147.23 346.67 147.02 347.33 147.45 348.00 147.35 348.67 147.88 349.33 147.56 350.00 147.61 350.68 147.31 351.36 147.87 352.05 147.22 352.73 148.01 353.41 148.42 354.09 147.08 354.77 146.68 355.45 148.10 356.14 148.99 356.82 147.42 357.50 147.34 358.18 148.19 358.86 147.58 359.55 147.75 360.23 147.85 360.91 148.28 361.59 147.88 362.27 148.22 362.95 148.04 363.64 147.77 364.32 148.03 365.00 147.77 365.68 148.25 366.36 147.79 367.05 147.84 367.73 149.04 368.41 148.40 369.09 148.45 369.77 148.75 370.45 148.37 371.14 148.51 371.82 148.85 372.50 148.83 373.18 148.22 373.86 149.17 374.55 148.57 375.23 148.41 375.91 148.52 376.59 148.80 377.27 149.75 377.95 148.53 378.64 149.18 379.32 148.19 380.00 149.20 380.67 149.62 381.33 149.12 382.00 148.96 382.67 149.36 383.33 149.58 384.00 149.58 384.67 150.18 385.33 149.40 386.00 149.05 386.67 149.28 387.33 149.31 388.00 149.41 388.67 149.36 389.33 149.46 390.00 148.65 390.67 149.79 391.33 149.17 392.00 148.91 392.67 149.74 393.33 150.06 394.00 149.70 394.67 149.57 395.33 149.09 396.00 150.81 396.67 149.93 397.33 149.03 398.00 149.21 398.67 149.61 399.33 148.89 400.00 149.68 400.67 149.40 401.33 150.17 402.00 150.05 402.67 148.41 403.33 149.65 404.00 148.91 404.67 150.15 405.33 149.73 406.00 149.91 406.67 149.19 407.33 150.50 408.00 150.59 408.67 149.21 409.33 149.86 410.00 149.40 410.67 149.70 411.33 149.14 412.00 150.56 412.67 149.29 413.33 149.60 414.00 149.97 414.67 149.46 415.33 149.65 416.00 149.51 416.67 149.71 417.33 149.25 418.00 149.58 418.67 149.69 419.33 149.64 420.00 149.83 420.67 149.68 421.33 150.17 422.00 149.69 422.67 149.79 423.33 149.57 424.00 149.64 424.67 149.32 425.33 150.14 426.00 149.41 426.67 149.60 427.33 150.11 428.00 150.14 428.67 149.79 429.33 149.08 430.00 150.19 430.67 150.13 431.33 149.39 432.00 150.39 432.67 149.74 433.33 149.56 434.00 150.12 434.67 150.01 435.33 150.20 436.00 149.40 436.67 150.95 437.33 149.88 438.00 149.47 438.67 150.45 439.33 150.03 440.00 150.35 440.67 150.06 441.33 150.21 442.00 150.36 442.67 149.93 443.33 150.59 444.00 150.09 444.67 149.93 445.33 150.37 446.00 150.55 446.67 150.26 447.33 150.00 448.00 150.68 448.67 149.62 449.33 149.97 450.00 150.47 450.67 149.85 451.33 150.50 452.00 150.48 452.67 150.92 453.33 150.12 454.00 150.27 454.67 150.72 455.33 149.48 456.00 152.00 456.67 150.30 457.33 150.30 458.00 151.04 458.67 150.65 459.33 149.88 460.00 150.98 460.67 151.10 461.33 150.53 462.00 150.62 462.67 150.99 463.33 150.37 464.00 151.00 464.67 150.91 465.33 150.53 466.00 150.22 466.67 150.77 467.33 150.49 468.00 151.35 468.67 150.98 469.33 151.29 470.00 151.01 470.67 151.08 471.33 150.63 472.00 151.30 472.67 151.82 473.33 150.89 474.00 150.78 474.67 151.00 475.33 150.87 476.00 150.78 476.67 151.18 477.33 151.00 478.00 151.80 478.67 151.17 479.33 151.33 480.00 151.63 480.67 151.07 481.33 151.86 482.00 150.94 482.67 150.86 483.33 151.07 484.00 151.19 484.67 150.62 485.33 151.24 486.00 150.51 486.67 151.89 487.33 151.24 488.00 150.99 488.67 150.88 489.33 151.12 490.00 151.20 490.67 150.84 491.33 150.90 492.00 151.24 492.67 151.09 493.33 151.76 494.00 151.85 494.67 151.35 495.33 151.57 496.00 150.76 496.67 151.65 497.33 151.36 498.00 151.60 498.67 152.11 499.33 150.37 500.00 151.52 500.68 150.91 501.36 151.68 502.04 150.83 502.72 151.21 503.40 151.53 504.08 151.72 504.76 151.49 505.44 151.11 506.12 151.22 506.80 151.88 507.48 151.49 508.16 150.74 508.84 151.88 509.52 151.70 510.20 151.91 510.88 151.38 511.56 151.91 512.24 151.07 512.92 151.81 513.60 151.34 514.28 151.87 514.96 152.03 515.64 151.25 516.32 151.57 517.00 151.60" fill="none" stroke="#dc1414" stroke-width="2.5" stroke-linejoin="round" stroke-linecap="round"/>
<rect x="262.0" y="227.3" width="255.0" height="136.09999999999997" fill="none" stroke="#1a1a1a" stroke-width="1.1"/><path d="M262.00 363.4v-5.5M262.00 227.3v5.5M266.41 363.4v-3M266.41 227.3v3M270.82 363.4v-3M270.82 227.3v3M275.23 363.4v-3M275.23 227.3v3M279.64 363.4v-3M279.64 227.3v3M284.05 363.4v-4.3M284.05 227.3v4.3M288.46 363.4v-3M288.46 227.3v3M292.87 363.4v-3M292.87 227.3v3M297.28 363.4v-3M297.28 227.3v3M301.69 363.4v-3M301.69 227.3v3M306.10 363.4v-5.5M306.10 227.3v5.5M310.51 363.4v-3M310.51 227.3v3M314.92 363.4v-3M314.92 227.3v3M319.33 363.4v-3M319.33 227.3v3M323.74 363.4v-3M323.74 227.3v3M328.15 363.4v-4.3M328.15 227.3v4.3M332.56 363.4v-3M332.56 227.3v3M336.97 363.4v-3M336.97 227.3v3M341.38 363.4v-3M341.38 227.3v3M345.79 363.4v-3M345.79 227.3v3M350.20 363.4v-5.5M350.20 227.3v5.5M354.61 363.4v-3M354.61 227.3v3M359.02 363.4v-3M359.02 227.3v3M363.43 363.4v-3M363.43 227.3v3M367.84 363.4v-3M367.84 227.3v3M372.25 363.4v-4.3M372.25 227.3v4.3M376.66 363.4v-3M376.66 227.3v3M381.07 363.4v-3M381.07 227.3v3M385.48 363.4v-3M385.48 227.3v3M389.89 363.4v-3M389.89 227.3v3M394.30 363.4v-5.5M394.30 227.3v5.5M398.71 363.4v-3M398.71 227.3v3M403.12 363.4v-3M403.12 227.3v3M407.53 363.4v-3M407.53 227.3v3M411.94 363.4v-3M411.94 227.3v3M416.35 363.4v-4.3M416.35 227.3v4.3M420.76 363.4v-3M420.76 227.3v3M425.17 363.4v-3M425.17 227.3v3M429.58 363.4v-3M429.58 227.3v3M433.99 363.4v-3M433.99 227.3v3M438.40 363.4v-5.5M438.40 227.3v5.5M442.81 363.4v-3M442.81 227.3v3M447.22 363.4v-3M447.22 227.3v3M451.63 363.4v-3M451.63 227.3v3M456.04 363.4v-3M456.04 227.3v3M460.45 363.4v-4.3M460.45 227.3v4.3M464.86 363.4v-3M464.86 227.3v3M469.27 363.4v-3M469.27 227.3v3M473.68 363.4v-3M473.68 227.3v3M478.09 363.4v-3M478.09 227.3v3M482.50 363.4v-5.5M482.50 227.3v5.5M486.91 363.4v-3M486.91 227.3v3M491.32 363.4v-3M491.32 227.3v3M495.73 363.4v-3M495.73 227.3v3M500.14 363.4v-3M500.14 227.3v3M504.55 363.4v-4.3M504.55 227.3v4.3M508.96 363.4v-3M508.96 227.3v3M513.37 363.4v-3M513.37 227.3v3" stroke="#1a1a1a" stroke-width="1" fill="none"/><path d="M262.0 362.29h3M517.0 362.29h-3M262.0 356.69h3M517.0 356.69h-3M262.0 351.08h3M517.0 351.08h-3M262.0 345.48h5.5M517.0 345.48h-5.5M262.0 339.88h3M517.0 339.88h-3M262.0 334.27h3M517.0 334.27h-3M262.0 328.66h3M517.0 328.66h-3M262.0 323.06h5.5M517.0 323.06h-5.5M262.0 317.45h3M517.0 317.45h-3M262.0 311.85h3M517.0 311.85h-3M262.0 306.25h3M517.0 306.25h-3M262.0 300.64h5.5M517.0 300.64h-5.5M262.0 295.03h3M517.0 295.03h-3M262.0 289.43h3M517.0 289.43h-3M262.0 283.82h3M517.0 283.82h-3M262.0 278.22h5.5M517.0 278.22h-5.5M262.0 272.61h3M517.0 272.61h-3M262.0 267.01h3M517.0 267.01h-3M262.0 261.40h3M517.0 261.40h-3M262.0 255.80h5.5M517.0 255.80h-5.5M262.0 250.19h3M517.0 250.19h-3M262.0 244.59h3M517.0 244.59h-3M262.0 238.98h3M517.0 238.98h-3M262.0 233.38h5.5M517.0 233.38h-5.5M262.0 227.77h3M517.0 227.77h-3" stroke="#1a1a1a" stroke-width="1" fill="none"/><text x="258.3" y="348.3" font-family="Liberation Sans" font-size="8.6" text-anchor="end" fill="#2a2a2a">0.2</text><text x="258.3" y="325.9" font-family="Liberation Sans" font-size="8.6" text-anchor="end" fill="#2a2a2a">0.4</text><text x="258.3" y="303.4" font-family="Liberation Sans" font-size="8.6" text-anchor="end" fill="#2a2a2a">0.6</text><text x="258.3" y="281.0" font-family="Liberation Sans" font-size="8.6" text-anchor="end" fill="#2a2a2a">0.8</text><text x="258.3" y="258.6" font-family="Liberation Sans" font-size="8.6" text-anchor="end" fill="#2a2a2a">1.0</text><text x="255.4" y="236.2" font-family="Liberation Sans" font-size="8.6" text-anchor="end" fill="#2a2a2a">1.2x10</text><text x="256" y="230.2" font-family="Liberation Sans" font-size="5" fill="#222">6</text><text x="262.0" y="375.8" font-family="Liberation Sans" font-size="8.6" text-anchor="middle" fill="#2a2a2a">0</text><text x="306.1" y="375.8" font-family="Liberation Sans" font-size="8.6" text-anchor="middle" fill="#2a2a2a">200</text><text x="350.2" y="375.8" font-family="Liberation Sans" font-size="8.6" text-anchor="middle" fill="#2a2a2a">400</text><text x="394.3" y="375.8" font-family="Liberation Sans" font-size="8.6" text-anchor="middle" fill="#2a2a2a">600</text><text x="438.4" y="375.8" font-family="Liberation Sans" font-size="8.6" text-anchor="middle" fill="#2a2a2a">800</text><text x="482.5" y="375.8" font-family="Liberation Sans" font-size="8.6" text-anchor="middle" fill="#2a2a2a">1000</text><text x="370.2" y="387.8" font-family="Liberation Sans" font-size="12.5" font-weight="bold" fill="#111">Time (s)</text><text transform="translate(236.9,315.3) rotate(-90)" font-family="Liberation Sans" font-weight="bold" fill="#111"><tspan font-size="13.4">MFI</tspan><tspan font-size="8.8" dy="2.9" dx="-0.3">PF4</tspan></text><text x="308.8" y="249.4" font-family="Liberation Sans" font-size="9" font-weight="bold" text-anchor="end" fill="#111">WT</text><text x="269.4" y="260.4" font-family="Liberation Sans" font-size="9.45" font-weight="bold" fill="#111">VAMP-7<tspan font-size="6.2" dy="-3.6" dx="0.3" font-weight="normal" letter-spacing="0.3">-/-</tspan></text><path d="M317 246.5H341.5" stroke="#86e83c" stroke-width="2"/><path d="M317 257.5H341.5" stroke="#3d6b1c" stroke-width="2"/><path d="M262.00 356.80 262.33 353.87 262.67 350.93 263.00 346.89 263.38 345.95 263.75 347.33 264.12 343.87 264.50 338.21 264.88 341.99 265.25 341.94 265.62 344.25 266.00 342.27 266.33 346.24 266.67 347.07 267.00 350.18 267.33 348.87 267.67 350.03 268.00 347.46 268.33 354.50 268.67 348.08 269.00 353.87 269.33 352.11 269.67 351.84 270.00 352.88 270.35 353.21 270.70 355.35 271.05 354.86 271.40 357.92 271.75 352.64 272.10 356.09 272.45 354.93 272.80 358.12 273.17 352.07 273.53 353.95 273.90 353.76 274.27 349.74 274.63 352.81 275.00 350.30 275.33 350.64 275.67 349.50 276.00 345.13 276.33 344.38 276.67 344.32 277.00 344.87 277.33 345.78 277.67 343.86 278.00 344.77 278.33 345.18 278.67 346.27 279.00 347.60 279.33 348.55 279.67 353.05 280.00 349.47 280.33 350.62 280.67 352.67 281.00 351.05 281.33 352.82 281.67 354.24 282.00 356.32 282.33 353.14 282.67 358.08 283.00 355.53 283.33 356.79 283.67 358.32 284.00 358.37 284.33 359.43 284.67 358.29 285.00 358.34 285.33 359.29 285.67 357.43 286.00 361.56 286.33 358.22 286.67 357.44 287.00 363.12 287.33 359.43 287.67 357.70 288.00 362.90 288.33 359.23 288.67 361.64 289.00 358.46 289.33 359.49 289.67 357.09 290.00 356.75 290.33 358.22 290.67 359.62 291.00 360.98 291.33 363.62 291.67 357.62 292.00 360.97 292.33 358.10 292.67 358.74 293.00 356.36 293.33 356.24 293.67 357.30 294.00 356.47 294.33 358.31 294.67 356.93 295.00 360.06 295.33 358.01 295.67 357.84 296.00 359.31 296.33 358.07 296.67 356.94 297.00 356.66 297.33 356.42 297.67 358.27 298.00 357.58 298.33 356.68 298.67 357.23 299.00 354.76 299.33 356.37 299.67 352.91 300.00 357.42 300.33 355.09 300.67 355.06 301.00 355.58 301.33 354.36 301.67 353.76 302.00 356.02 302.33 354.01 302.67 352.07 303.00 354.18 303.33 350.35 303.67 355.88 304.00 352.58 304.33 352.77 304.67 356.34 305.00 355.97 305.33 352.32 305.67 353.00 306.00 353.60 306.33 354.42 306.67 351.15 307.00 351.42 307.33 353.08 307.67 351.27 308.00 351.91 308.33 351.47 308.67 348.32 309.00 348.60 309.33 345.38 309.67 349.25 310.00 351.78 310.33 347.40 310.67 351.16 311.00 350.55 311.33 348.54 311.67 348.40 312.00 348.34 312.33 346.52 312.67 347.29 313.00 347.47 313.33 348.37 313.67 348.46 314.00 345.64 314.33 348.09 314.67 345.14 315.00 345.96 315.33 346.66 315.67 345.78 316.00 345.38 316.33 345.84 316.67 344.23 317.00 343.84 317.33 344.39 317.67 346.15 318.00 344.13 318.33 347.32 318.67 344.23 319.00 338.59 319.33 342.69 319.67 346.05 320.00 343.01 320.33 342.02 320.67 341.05 321.00 344.55 321.33 343.77 321.67 342.98 322.00 342.33 322.33 343.82 322.67 342.53 323.00 338.81 323.33 341.97 323.67 340.72 324.00 340.01 324.33 341.26 324.67 339.78 325.00 334.51 325.33 341.91 325.67 340.80 326.00 338.59 326.33 337.93 326.67 338.72 327.00 335.92 327.33 338.39 327.67 337.24 328.00 336.80 328.33 335.60 328.67 335.78 329.00 338.58 329.33 338.74 329.67 337.09 330.00 335.92 330.33 334.27 330.67 336.75 331.00 338.04 331.33 332.32 331.67 336.83 332.00 330.92 332.33 333.79 332.67 334.79 333.00 331.58 333.33 331.09 333.67 333.75 334.00 334.69 334.33 332.16 334.67 335.02 335.00 331.17 335.33 335.25 335.67 332.24 336.00 332.20 336.33 332.61 336.67 331.88 337.00 334.24 337.33 334.62 337.67 331.56 338.00 330.12 338.33 328.17 338.67 328.65 339.00 329.72 339.33 329.29 339.67 329.16 340.00 329.01 340.33 329.61 340.67 326.24 341.00 326.56 341.33 329.97 341.67 329.26 342.00 326.69 342.33 329.57 342.67 325.98 343.00 326.47 343.33 323.56 343.67 327.87 344.00 326.19 344.33 327.79 344.67 326.94 345.00 325.67 345.33 325.55 345.67 327.08 346.00 324.54 346.33 324.32 346.67 324.47 347.00 325.49 347.33 325.46 347.67 326.92 348.00 323.30 348.33 325.36 348.67 321.87 349.00 323.78 349.33 322.74 349.67 325.25 350.00 323.10 350.33 321.11 350.67 322.65 351.00 322.06 351.33 320.74 351.67 320.58 352.00 319.27 352.33 325.37 352.67 320.71 353.00 321.94 353.33 318.10 353.67 318.04 354.00 319.42 354.33 319.23 354.67 320.65 355.00 317.38 355.33 319.80 355.67 321.26 356.00 316.93 356.33 319.83 356.67 316.45 357.00 318.47 357.33 318.30 357.67 320.44 358.00 316.11 358.33 317.37 358.67 318.66 359.00 314.69 359.33 316.47 359.67 314.81 360.00 314.89 360.33 317.05 360.67 316.88 361.00 319.87 361.33 317.63 361.67 317.28 362.00 314.60 362.33 314.17 362.67 314.72 363.00 310.41 363.33 316.90 363.67 312.74 364.00 311.87 364.33 312.69 364.67 314.76 365.00 315.18 365.33 312.22 365.67 313.40 366.00 312.36 366.33 310.56 366.67 312.34 367.00 311.90 367.33 309.04 367.67 313.32 368.00 308.58 368.33 311.44 368.67 309.06 369.00 309.26 369.33 309.25 369.67 311.44 370.00 307.91 370.33 309.49 370.67 312.24 371.00 308.19 371.34 309.10 371.67 310.06 372.00 307.72 372.34 309.30 372.67 307.14 373.01 309.24 373.34 307.93 373.68 306.01 374.01 309.78 374.34 307.00 374.68 306.47 375.01 305.15 375.35 305.70 375.68 306.11 376.01 306.35 376.35 307.70 376.68 303.38 377.02 304.80 377.35 307.21 377.68 305.26 378.02 305.43 378.35 307.22 378.69 304.86 379.02 304.86 379.35 303.78 379.69 306.63 380.02 305.19 380.36 301.96 380.69 303.90 381.02 300.79 381.36 304.37 381.69 303.44 382.03 301.81 382.36 301.18 382.70 298.59 383.03 302.71 383.36 300.99 383.70 300.44 384.03 301.98 384.37 299.40 384.70 299.31 385.03 298.96 385.37 297.67 385.70 303.90 386.04 299.31 386.37 298.87 386.70 300.83 387.04 293.78 387.37 298.92 387.71 298.82 388.04 296.98 388.38 299.25 388.71 294.85 389.04 298.13 389.38 299.44 389.71 293.98 390.05 295.11 390.38 297.12 390.71 297.17 391.05 295.91 391.38 297.44 391.72 297.05 392.05 294.16 392.38 296.10 392.72 293.92 393.05 292.38 393.39 291.63 393.72 297.30 394.05 295.16 394.39 298.54 394.72 292.55 395.06 294.26 395.39 295.27 395.72 294.29 396.06 295.22 396.39 294.45 396.73 292.99 397.06 289.92 397.40 292.10 397.73 296.48 398.06 294.70 398.40 295.58 398.73 292.08 399.07 292.59 399.40 291.27 399.74 293.31 400.08 292.64 400.42 293.20 400.75 295.31 401.09 290.78 401.43 293.35 401.77 289.59 402.11 293.74 402.45 291.00 402.78 291.52 403.12 291.76 403.46 294.21 403.80 291.24 404.14 290.33 404.48 289.05 404.82 291.42 405.15 289.38 405.49 289.86 405.83 290.56 406.17 291.63 406.51 289.15 406.85 291.39 407.18 293.15 407.52 287.49 407.86 292.23 408.20 293.46 408.55 288.66 408.90 290.59 409.25 287.08 409.60 289.87 409.95 288.62 410.30 289.56 410.65 287.36 411.00 287.39 411.33 287.14 411.67 285.80 412.00 285.06 412.33 284.88 412.67 282.44 413.00 283.18 413.33 283.36 413.67 277.71 414.00 281.09 414.33 278.85 414.67 277.58 415.00 276.55 415.33 276.76 415.67 276.30 416.00 277.51 416.33 274.14 416.67 277.43 417.00 273.63 417.33 276.34 417.67 277.18 418.00 273.40 418.33 277.46 418.67 279.52 419.00 275.23 419.33 277.14 419.67 276.10 420.00 276.63 420.33 276.33 420.67 275.96 421.00 278.21 421.33 278.64 421.67 277.31 422.00 280.04 422.33 279.48 422.67 278.98 423.00 276.72 423.34 280.77 423.68 279.38 424.02 273.07 424.36 274.43 424.71 275.09 425.05 277.09 425.39 277.21 425.73 274.19 426.07 274.69 426.41 275.05 426.75 271.29 427.09 274.05 427.44 272.12 427.78 272.54 428.12 271.74 428.46 269.40 428.80 269.30 429.14 270.90 429.48 270.87 429.82 270.03 430.15 272.11 430.49 269.52 430.83 267.89 431.17 269.20 431.51 269.32 431.85 269.22 432.18 271.25 432.52 269.96 432.86 270.72 433.20 269.81 433.54 268.30 433.88 270.17 434.22 267.79 434.55 268.48 434.89 266.19 435.23 267.89 435.57 266.99 435.91 268.01 436.25 270.29 436.58 271.06 436.92 268.59 437.26 266.64 437.60 267.92 437.94 266.73 438.28 265.13 438.63 265.89 438.97 265.40 439.31 264.62 439.65 267.82 440.00 264.39 440.34 264.29 440.68 266.15 441.02 263.60 441.37 262.66 441.71 262.99 442.05 265.09 442.39 264.73 442.73 264.43 443.08 262.96 443.42 262.02 443.76 264.95 444.10 260.77 444.45 262.70 444.79 260.63 445.13 262.02 445.47 262.28 445.82 264.46 446.16 257.32 446.50 264.35 446.84 260.20 447.18 261.89 447.52 262.44 447.86 259.45 448.20 260.29 448.54 260.95 448.88 259.59 449.22 258.23 449.56 259.48 449.90 259.03 450.24 255.98 450.58 260.52 450.92 258.27 451.26 253.45 451.60 255.84 451.94 259.86 452.28 259.31 452.62 256.76 452.96 253.11 453.30 255.25 453.64 257.14 453.98 255.69 454.32 254.14 454.66 253.13 455.00 255.47 455.35 255.95 455.70 259.12 456.05 261.65 456.40 265.86 456.75 262.21 457.10 261.18 457.45 256.53 457.80 260.29 458.15 258.75 458.50 256.05 458.85 249.87 459.20 250.45 459.55 249.20 459.90 250.30 460.25 245.41 460.60 243.42 460.94 243.43 461.28 244.27 461.61 240.02 461.95 240.47 462.29 239.87 462.62 241.35 462.96 241.20 463.30 241.94 463.64 239.98 463.98 241.84 464.31 240.19 464.65 245.21 464.99 240.67 465.32 245.87 465.66 244.27 466.00 239.42 466.34 243.17 466.67 242.65 467.01 239.09 467.34 242.82 467.68 241.71 468.01 242.54 468.35 240.57 468.68 242.00 469.02 242.89 469.35 241.96 469.69 241.32 470.02 242.17 470.36 240.85 470.69 243.18 471.03 238.32 471.36 245.33 471.70 242.95 472.04 244.09 472.39 245.18 472.73 242.04 473.07 248.47 473.42 243.13 473.76 246.26 474.11 246.46 474.45 248.58 474.79 246.76 475.14 244.81 475.48 248.21 475.82 243.89 476.17 248.18 476.51 248.18 476.86 252.05 477.20 249.36 477.55 248.54 477.90 247.49 478.25 246.80 478.60 246.78 478.95 248.22 479.30 244.43 479.65 245.79 480.00 243.13 480.35 244.81 480.70 244.85 481.05 241.94 481.40 242.54 481.75 243.16 482.10 243.77 482.45 243.55 482.80 241.22 483.14 239.88 483.48 238.98 483.82 243.26 484.17 244.48 484.51 242.90 484.85 245.12 485.19 241.85 485.53 242.13 485.88 245.65 486.22 241.43 486.56 244.35 486.90 244.16 487.24 243.93 487.58 246.80 487.93 242.52 488.27 243.47 488.61 240.81 488.95 242.76 489.29 243.85 489.63 244.24 489.98 244.73 490.32 245.76 490.66 244.28 491.00 242.22 491.34 245.37 491.67 245.34 492.01 242.15 492.34 242.30 492.68 246.16 493.01 244.42 493.35 244.04 493.68 242.84 494.02 241.45 494.35 239.84 494.69 241.21 495.02 239.40 495.36 238.50 495.69 238.74 496.03 238.14 496.36 239.31 496.70 235.66 497.04 241.38 497.39 235.23 497.73 236.04 498.07 238.21 498.42 234.99 498.76 235.42 499.11 236.12 499.45 230.82 499.79 234.86 500.14 233.90 500.48 234.95 500.82 236.05 501.17 236.12 501.51 237.42 501.86 237.14 502.20 236.27 502.55 234.17 502.90 235.76 503.25 232.01 503.60 233.29 503.95 235.65 504.30 234.28 504.65 230.27 505.00 231.39 505.35 233.69 505.70 232.94 506.05 233.47 506.40 228.33 506.75 228.93 507.10 230.41 507.45 228.91 507.80 230.26 508.14 230.26 508.49 230.75 508.83 229.86 509.18 230.96 509.52 231.26 509.86 230.10 510.21 227.67 510.55 231.89 510.89 229.97 511.24 230.25 511.58 229.73 511.92 226.60 512.27 230.27 512.61 228.07 512.96 227.03 513.30 231.24 513.66 228.84 514.01 230.19 514.37 231.56 514.72 233.14 515.08 227.60 515.43 229.76 515.79 232.52 516.14 230.55 516.50 232.00" fill="none" stroke="#86e83a" stroke-width="2.5" stroke-linejoin="round" stroke-linecap="round"/><path d="M262.00 326.00 262.40 324.00 262.80 325.67 263.20 321.40 263.60 330.75 264.00 325.48 264.40 322.19 264.80 327.11 265.20 328.36 265.60 328.58 266.00 324.44 266.33 334.65 266.67 331.74 267.00 333.37 267.33 331.49 267.67 328.80 268.00 326.10 268.33 329.96 268.67 334.20 269.00 335.57 269.33 336.72 269.67 333.64 270.00 333.04 270.33 336.45 270.67 335.31 271.00 334.09 271.33 335.34 271.67 337.31 272.00 340.48 272.33 337.18 272.67 337.89 273.00 340.80 273.33 338.07 273.67 339.81 274.00 342.59 274.33 342.71 274.67 342.50 275.00 344.21 275.33 338.24 275.67 345.51 276.00 342.27 276.33 341.33 276.67 345.16 277.00 346.26 277.33 344.53 277.67 343.73 278.00 346.05 278.33 346.24 278.67 349.20 279.00 348.35 279.33 347.68 279.67 349.67 280.00 347.63 280.33 347.17 280.67 350.72 281.00 351.55 281.33 350.95 281.67 350.76 282.00 353.41 282.33 349.34 282.67 355.91 283.00 356.38 283.33 353.38 283.67 357.28 284.00 356.26 284.33 359.86 284.67 355.34 285.00 357.85 285.33 361.28 285.67 362.58 286.00 357.12 286.33 360.07 286.67 361.52 287.00 359.79 287.33 363.72 287.67 358.67 288.00 361.42 288.33 358.85 288.67 363.23 289.00 360.63 289.33 359.96 289.67 357.50 290.00 363.58 290.33 361.87 290.67 361.84 291.00 362.49 291.33 361.04 291.67 359.22 292.00 358.89 292.33 358.86 292.67 362.73 293.00 357.59 293.33 359.11 293.67 359.57 294.00 360.52 294.33 361.11 294.67 357.79 295.00 356.89 295.33 359.99 295.67 362.18 296.00 361.36 296.33 360.39 296.67 359.43 297.00 360.53 297.33 359.56 297.67 361.47 298.00 358.57 298.33 360.24 298.67 359.80 299.00 360.98 299.33 360.40 299.67 364.59 300.00 362.70 300.33 362.69 300.67 356.33 301.00 359.39 301.33 358.90 301.67 360.96 302.00 355.90 302.33 362.11 302.67 361.92 303.00 357.66 303.33 358.24 303.67 358.56 304.00 360.08 304.33 361.15 304.67 363.69 305.00 359.64 305.33 361.38 305.67 360.28 306.00 363.17 306.33 361.34 306.67 362.46 307.00 358.06 307.33 359.65 307.67 358.54 308.00 362.71 308.33 361.18 308.67 359.45 309.00 359.19 309.33 360.87 309.67 358.74 310.00 358.32 310.33 360.87 310.67 364.43 311.00 359.56 311.33 359.00 311.67 357.89 312.00 357.60 312.33 360.94 312.67 361.53 313.00 360.02 313.33 360.60 313.67 360.21 314.00 360.25 314.33 357.25 314.67 359.18 315.00 360.20 315.33 358.59 315.67 359.14 316.00 358.53 316.33 359.40 316.67 361.54 317.00 359.27 317.33 359.72 317.67 361.46 318.00 361.16 318.33 363.05 318.67 356.24 319.00 361.54 319.33 359.13 319.67 360.24 320.00 361.51 320.33 361.95 320.67 361.87 321.00 360.28 321.33 362.90 321.67 359.49 322.00 359.75 322.33 361.44 322.67 359.01 323.00 363.89 323.33 361.83 323.67 363.92 324.00 359.95 324.33 359.31 324.67 360.30 325.00 361.32 325.33 358.94 325.67 360.68 326.00 359.97 326.33 362.91 326.67 358.81 327.00 361.88 327.33 358.84 327.67 358.27 328.00 358.72 328.33 357.86 328.67 360.26 329.00 361.86 329.33 360.30 329.67 361.12 330.00 362.94 330.33 360.49 330.67 360.35 331.00 359.50 331.33 357.11 331.67 361.37 332.00 356.84 332.33 361.17 332.67 359.97 333.00 362.03 333.33 359.88 333.67 358.52 334.00 360.64 334.33 358.99 334.67 359.67 335.00 360.08 335.33 359.76 335.67 359.66 336.00 358.50 336.33 359.66 336.67 356.15 337.00 359.72 337.33 357.84 337.67 362.02 338.00 362.29 338.33 356.49 338.67 360.26 339.00 359.77 339.33 358.12 339.67 360.96 340.00 359.17 340.33 356.82 340.67 359.52 341.00 359.73 341.33 360.19 341.67 357.78 342.00 361.11 342.33 361.32 342.67 357.94 343.00 358.81 343.33 359.86 343.67 358.98 344.00 363.14 344.33 360.38 344.67 358.18 345.00 358.58 345.33 359.85 345.67 364.04 346.00 359.54 346.33 360.04 346.67 360.69 347.00 359.64 347.33 363.77 347.67 358.66 348.00 360.91 348.33 359.81 348.67 360.59 349.00 357.31 349.33 362.56 349.67 359.11 350.00 359.35 350.33 357.56 350.67 357.88 351.00 360.16 351.33 360.87 351.67 360.40 352.00 361.18 352.33 360.16 352.67 358.80 353.00 360.13 353.33 359.57 353.67 358.19 354.00 359.56 354.33 360.44 354.67 358.42 355.00 357.23 355.33 359.04 355.67 361.05 356.00 357.12 356.33 357.21 356.67 357.00 357.00 359.33 357.33 353.69 357.67 357.53 358.00 358.90 358.33 355.16 358.67 359.18 359.00 357.34 359.33 355.26 359.67 356.49 360.00 353.24 360.33 354.65 360.67 358.62 361.00 353.39 361.33 357.99 361.67 354.19 362.00 355.79 362.33 353.75 362.67 349.30 363.00 351.97 363.33 353.01 363.67 350.26 364.00 349.57 364.33 352.71 364.67 350.94 365.00 349.11 365.33 350.99 365.67 353.83 366.00 351.48 366.33 354.07 366.67 355.19 367.00 352.56 367.33 350.52 367.67 350.27 368.00 352.62 368.33 354.31 368.67 353.26 369.00 353.82 369.33 352.09 369.67 353.49 370.00 352.15 370.33 352.08 370.67 350.01 371.00 349.17 371.33 350.80 371.67 349.34 372.00 349.27 372.33 351.87 372.67 350.14 373.00 355.25 373.33 351.33 373.67 348.19 374.00 350.40 374.33 349.45 374.67 347.39 375.00 350.42 375.34 346.85 375.67 342.56 376.01 349.30 376.34 346.58 376.68 350.17 377.01 346.14 377.34 345.00 377.68 349.72 378.01 344.81 378.35 346.93 378.68 348.98 379.02 346.39 379.35 345.85 379.68 346.00 380.02 347.14 380.35 343.99 380.69 346.35 381.02 346.10 381.36 349.07 381.69 344.08 382.02 342.85 382.36 345.64 382.69 343.41 383.03 344.46 383.36 343.99 383.70 345.67 384.03 342.19 384.37 343.02 384.70 338.41 385.03 341.26 385.37 345.49 385.70 341.36 386.04 341.19 386.37 340.13 386.70 343.23 387.04 342.37 387.37 339.77 387.71 342.97 388.04 342.10 388.38 342.86 388.71 340.21 389.04 344.36 389.38 341.83 389.71 340.74 390.05 339.88 390.38 340.24 390.71 342.09 391.05 339.92 391.38 342.21 391.72 341.18 392.05 342.42 392.38 341.33 392.72 339.61 393.05 336.15 393.39 339.99 393.72 340.74 394.05 339.48 394.39 340.05 394.72 338.06 395.06 338.09 395.39 336.94 395.72 340.95 396.06 338.65 396.39 337.34 396.73 335.69 397.06 337.68 397.40 340.41 397.73 338.51 398.06 336.24 398.40 339.98 398.73 339.84 399.07 338.90 399.40 338.42 399.74 338.96 400.08 337.75 400.42 338.05 400.75 335.13 401.09 339.12 401.43 336.72 401.77 339.84 402.11 332.40 402.45 337.23 402.78 337.61 403.12 335.11 403.46 336.43 403.80 336.85 404.14 336.42 404.48 334.30 404.82 334.90 405.15 336.87 405.49 337.22 405.83 334.99 406.17 334.83 406.51 334.94 406.85 336.33 407.18 332.45 407.52 331.84 407.86 334.34 408.20 332.01 408.54 332.60 408.88 333.47 409.22 333.84 409.56 330.71 409.91 333.74 410.25 328.76 410.59 332.59 410.93 328.43 411.27 328.63 411.61 331.74 411.95 329.52 412.29 328.47 412.64 328.76 412.98 330.06 413.32 328.79 413.66 328.49 414.00 330.10 414.35 327.03 414.69 327.58 415.04 327.61 415.38 330.77 415.73 330.57 416.07 331.22 416.42 328.96 416.77 328.85 417.11 330.78 417.46 328.66 417.80 330.98 418.15 330.90 418.50 328.46 418.84 329.68 419.19 329.74 419.53 333.19 419.88 334.84 420.23 330.12 420.57 330.44 420.92 326.43 421.26 331.03 421.61 330.75 421.95 328.95 422.30 332.41 422.65 334.68 423.00 343.61 423.35 337.25 423.70 327.75 424.04 331.17 424.38 331.15 424.71 326.38 425.05 325.97 425.39 329.21 425.73 327.70 426.06 325.19 426.40 326.47 426.74 326.43 427.07 325.99 427.41 327.36 427.75 326.19 428.09 328.31 428.43 327.22 428.76 325.60 429.10 325.94 429.44 326.01 429.77 324.52 430.11 320.67 430.45 324.05 430.79 322.26 431.12 324.66 431.46 321.54 431.80 321.95 432.13 321.84 432.47 324.53 432.80 322.07 433.13 321.51 433.47 322.81 433.80 321.71 434.13 323.04 434.47 322.99 434.80 323.74 435.13 326.96 435.47 323.02 435.80 324.07 436.13 323.89 436.47 325.71 436.80 322.62 437.13 323.75 437.47 325.18 437.80 326.48 438.13 325.67 438.47 325.10 438.80 324.69 439.13 327.42 439.47 329.35 439.80 327.58 440.20 332.34 440.60 337.80 441.00 330.30 441.40 326.44 441.73 326.39 442.07 327.28 442.40 326.57 442.73 324.31 443.07 328.40 443.40 329.30 443.73 325.65 444.07 326.72 444.40 326.36 444.73 327.16 445.07 322.96 445.40 328.40 445.73 324.53 446.07 327.53 446.40 325.27 446.73 324.30 447.07 324.62 447.40 326.36 447.73 323.07 448.07 323.82 448.40 323.51 448.73 321.16 449.07 326.47 449.40 325.04 449.74 323.62 450.08 325.40 450.42 321.24 450.75 322.48 451.09 325.37 451.43 323.69 451.77 317.57 452.11 315.23 452.45 319.02 452.78 322.45 453.12 319.34 453.46 319.45 453.80 320.59 454.14 317.56 454.48 319.19 454.82 319.89 455.15 318.96 455.49 318.48 455.83 316.34 456.17 318.00 456.51 315.96 456.85 318.73 457.18 320.66 457.52 314.36 457.86 311.43 458.20 314.23 458.56 316.01 458.92 317.56 459.27 317.94 459.63 314.92 459.99 315.24 460.35 319.28 460.71 315.37 461.07 319.63 461.43 317.59 461.78 319.71 462.14 319.94 462.50 320.40 462.90 327.98 463.30 332.22 463.70 326.54 464.10 318.03 464.44 318.25 464.79 319.61 465.13 316.59 465.47 315.49 465.81 315.15 466.16 315.60 466.50 317.20 466.84 314.08 467.19 317.32 467.53 315.45 467.87 314.21 468.21 311.92 468.56 314.45 468.90 314.94 469.24 310.69 469.59 316.18 469.93 317.17 470.27 314.98 470.62 315.43 470.96 319.06 471.31 317.10 471.65 313.43 471.99 315.19 472.34 315.11 472.68 315.28 473.02 311.47 473.37 317.26 473.71 314.92 474.06 316.53 474.40 316.15 474.75 317.44 475.10 314.82 475.45 313.39 475.80 315.26 476.15 316.30 476.50 312.67 476.85 315.19 477.20 312.67 477.55 310.72 477.90 313.90 478.25 309.15 478.60 311.93 478.95 308.68 479.30 309.86 479.65 306.30 480.00 306.49 480.35 309.58 480.70 307.66 481.05 307.06 481.40 305.86 481.75 307.12 482.10 303.46 482.45 303.62 482.80 305.02 483.17 303.91 483.53 304.27 483.90 305.52 484.27 305.52 484.63 305.48 485.00 309.00 485.60 317.82 486.20 305.21 486.55 301.95 486.90 300.09 487.25 297.38 487.60 298.37 487.95 294.25 488.30 295.95 488.64 299.41 488.98 301.99 489.31 301.85 489.65 299.60 489.99 303.07 490.32 301.80 490.66 305.74 491.00 305.10 491.38 303.37 491.75 302.98 492.12 296.54 492.50 295.60 492.85 291.38 493.20 290.13 493.55 292.79 493.90 293.15 494.25 288.71 494.60 289.51 494.95 286.46 495.30 288.34 495.64 290.52 495.98 288.99 496.32 288.35 496.67 287.07 497.01 290.49 497.35 291.49 497.69 291.35 498.03 290.96 498.38 288.43 498.72 294.12 499.06 291.07 499.40 291.14 499.85 293.02 500.30 288.11 500.80 309.88 501.30 291.75 501.75 292.37 502.20 293.82 502.55 291.91 502.90 287.43 503.25 289.78 503.60 290.42 503.95 289.98 504.30 287.07 504.65 286.04 505.00 289.69 505.35 291.39 505.70 292.81 506.05 291.82 506.40 297.00" fill="none" stroke="#3a6b1a" stroke-width="2.4" stroke-linejoin="round" stroke-linecap="round"/>
<text x="1.6" y="13.1" font-family="Liberation Sans" font-size="16.6" font-weight="bold" fill="#111">A</text><text x="2.2" y="28.3" font-family="Liberation Sans" font-size="12" font-weight="bold" fill="#111">Time (s)</text><text x="90.6" y="25" font-family="Liberation Sans" font-size="12" font-weight="bold" text-anchor="middle" fill="#111">WT</text><text x="146.6" y="25" font-family="Liberation Sans" font-size="12" font-weight="bold" fill="#111">Vamp7<tspan font-size="7.5" dy="-4.3" dx="0.5" letter-spacing="0.7">-/-</tspan></text><text x="45.6" y="66.6" font-family="Liberation Sans" font-size="12.5" font-weight="bold" text-anchor="end" fill="#111">0</text><text x="45.6" y="123.6" font-family="Liberation Sans" font-size="12.5" font-weight="bold" text-anchor="end" fill="#111">60</text><text x="45.6" y="187.4" font-family="Liberation Sans" font-size="12.5" font-weight="bold" text-anchor="end" fill="#111">300</text><text x="45.6" y="244.8" font-family="Liberation Sans" font-size="12.5" font-weight="bold" text-anchor="end" fill="#111">600</text><text x="45.6" y="308.4" font-family="Liberation Sans" font-size="12.5" font-weight="bold" text-anchor="end" fill="#111">900</text><text x="45.6" y="365.4" font-family="Liberation Sans" font-size="12.5" font-weight="bold" text-anchor="end" fill="#111">1200</text><text x="50.8" y="403.6" font-family="Liberation Sans" font-size="14.5" fill="#b01c2e" stroke="#b01c2e" stroke-width="0.3">Platelets: red</text><text x="50.8" y="419.9" font-family="Liberation Sans" font-size="14.5" fill="#7dc242" stroke="#7dc242" stroke-width="0.3">PF4: green</text><text x="223.1" y="13" font-family="Liberation Sans" font-size="17" font-weight="bold" fill="#111">B</text><text x="223.9" y="211.3" font-family="Liberation Sans" font-size="17.5" font-weight="bold" fill="#111">C</text>
</svg></body></html>
